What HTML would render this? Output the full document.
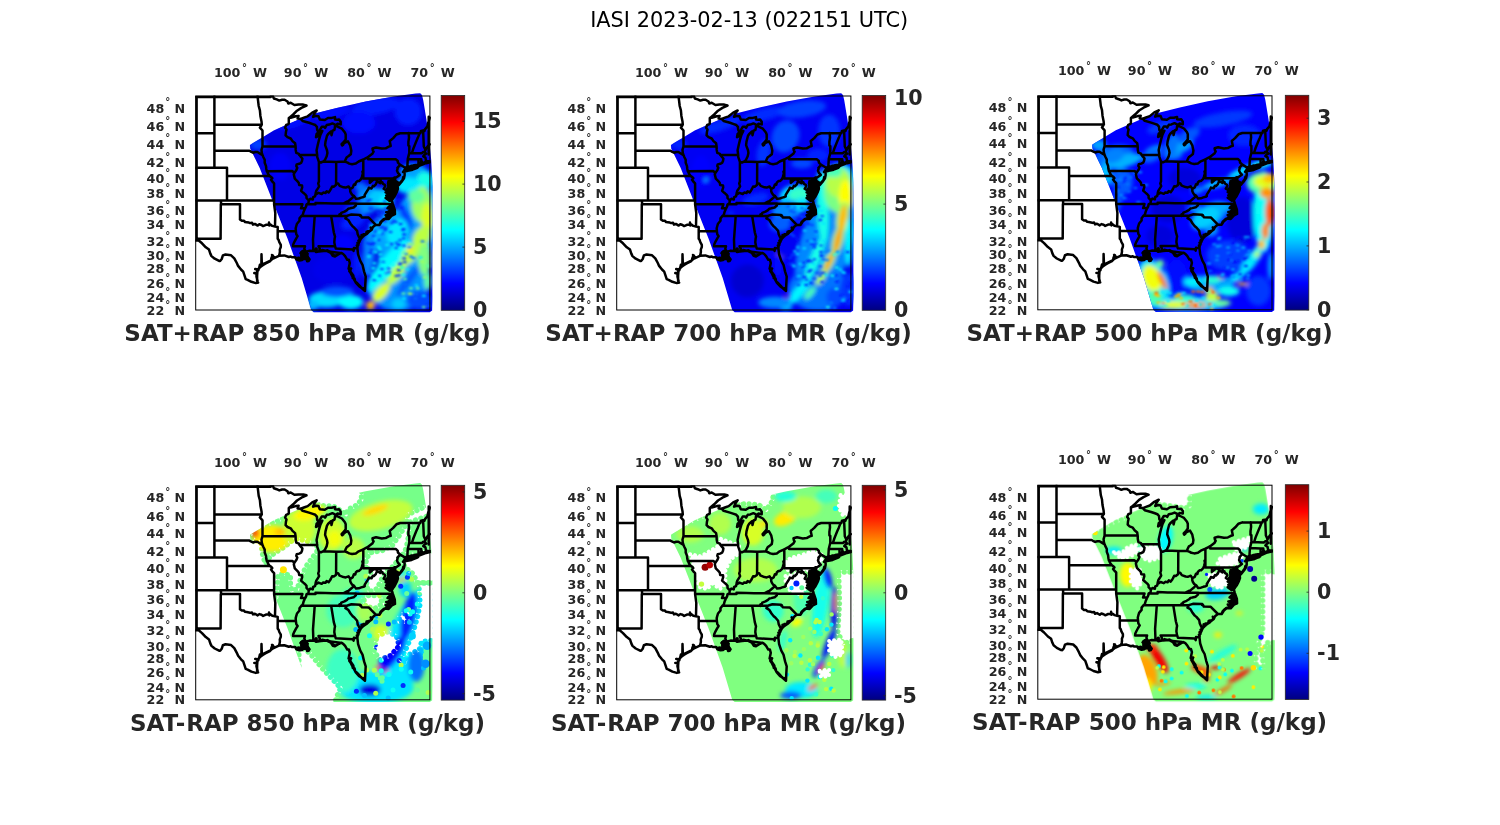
<!DOCTYPE html>
<html><head><meta charset="utf-8"><title>IASI 2023-02-13 (022151 UTC)</title>
<style>html,body{margin:0;padding:0;background:#fff}svg{display:block}text{font-family:"DejaVu Sans","Liberation Sans",sans-serif}.b{font-weight:bold;fill:#262626}</style></head><body>
<svg width="1500" height="825" viewBox="0 0 1500 825">
<defs>
<linearGradient id="jet" x1="0" y1="1" x2="0" y2="0">
<stop offset="0" stop-color="#000080"/>
<stop offset="0.125" stop-color="#0000ff"/>
<stop offset="0.375" stop-color="#00ffff"/>
<stop offset="0.625" stop-color="#ffff00"/>
<stop offset="0.875" stop-color="#ff0000"/>
<stop offset="1" stop-color="#800000"/>
</linearGradient>
<filter id="bl" x="-20%" y="-20%" width="140%" height="140%"><feGaussianBlur stdDeviation="2.2"/></filter>
<filter id="bl1" x="-20%" y="-20%" width="140%" height="140%"><feGaussianBlur stdDeviation="1.1"/></filter>
<g id="states"><path d="M0.9 1.0L0.9 144.5M0.0 1.0L75.0 1.0M0.0 37.2L18.7 37.2M18.7 0.0L18.7 71.8M18.7 28.7L66.1 28.7M18.7 54.8L53.8 54.8L55.1 55.6L57.3 56.7L59.5 56.0L61.7 56.0L63.6 57.2L65.2 58.2L66.8 59.1M0.0 71.8L31.3 71.8L31.3 80.1M31.3 80.1L74.0 80.1M31.3 80.1L31.3 104.4M0.0 104.4L78.4 104.4M25.3 104.4L25.3 108.3L25.1 108.3L24.9 142.8L2.4 142.8L3.0 144.5L0.0 144.5M25.3 108.3L44.3 108.3L44.3 123.4M44.3 123.4L46.2 124.8L48.1 124.7L49.4 126.0L51.0 126.2L53.2 126.6L54.4 127.1L56.3 126.7L57.3 128.6L59.2 127.9L62.0 129.6L63.6 128.3L65.8 129.0L67.4 130.1L70.3 128.8L72.5 128.5L74.4 128.3L76.6 129.9L79.3 130.5L82.0 131.1M78.4 104.4L78.4 108.3L79.6 117.0L79.3 130.5M82.0 131.1L82.0 142.8L82.9 143.9L83.6 146.2L85.1 148.9L85.1 151.0L84.1 153.6L84.2 155.8L83.9 157.6L83.2 159.8M82.0 135.2L100.2 135.3M78.4 104.4L78.4 87.3L76.6 85.5L75.3 83.8L76.6 82.2L75.6 81.1L74.0 80.1M74.0 80.1L72.5 77.9L71.1 75.2L70.6 73.0L70.3 70.1L69.0 66.7L69.0 63.8L67.7 61.2L66.8 59.1M66.8 59.1L66.1 56.9L65.8 53.9L66.8 50.4L66.8 34.5L64.2 31.6L66.1 28.7L65.8 25.4L64.7 19.9L64.2 14.3L63.0 10.0L62.4 4.8L61.8 0.0M66.8 50.4L99.9 50.4M71.1 75.2L96.7 75.1L98.6 77.0M78.4 108.3L106.7 108.3L105.3 112.3L109.5 112.3M75.0 0.0L77.1 0.0L78.2 2.5L81.0 3.4L83.6 4.6L86.4 3.7L88.9 3.7L91.8 5.5L92.6 7.5L95.0 6.7L98.7 9.0L102.9 8.6L107.6 8.6L110.8 9.5M110.8 9.5L105.7 11.9L101.3 14.7L97.5 18.5L94.3 21.2M94.3 21.2L93.1 22.1L93.1 27.5L92.7 28.1L90.5 29.0L89.4 31.8L90.8 33.6L90.2 36.3L89.9 39.4L91.8 41.2L95.0 42.5L96.8 45.1L99.4 47.3L99.9 50.4M99.9 50.4L100.0 53.9L100.6 56.9L103.2 57.9L103.6 59.0L105.1 60.8L106.7 62.5L106.3 65.0L105.4 66.9L103.5 67.8L101.0 68.4L100.6 70.1L101.6 71.8L101.3 72.6L100.6 74.3L98.6 77.0L98.1 78.5L98.7 80.9L99.1 82.6L101.6 85.1L103.0 86.7L103.5 89.1L106.3 89.4L106.5 91.3L105.4 94.8L107.6 96.8L109.5 98.4L110.8 100.0L110.8 102.0L113.1 104.5M113.1 104.5L112.7 107.5L110.8 108.3L110.5 110.3L109.5 112.3L107.9 115.8L107.0 119.0L105.7 120.0L103.8 122.4L103.8 124.7L101.3 127.7L100.6 130.0L100.0 132.3L100.2 135.3L100.6 138.3L101.9 140.2L100.3 142.8L98.7 145.8L97.5 148.4L97.3 150.2M97.3 150.2L109.3 150.2L108.6 152.8L109.8 155.4L110.1 156.3M103.6 59.0L121.5 59.1M123.2 65.9L123.2 85.5L122.5 87.5L123.4 90.4L121.9 92.8L120.6 94.8L120.0 96.8L119.8 98.3M167.6 74.8L166.7 75.6L167.1 77.6L166.2 80.9L165.4 83.0L163.3 85.1L161.7 85.1L160.1 86.7L159.6 88.7L158.2 88.5L157.0 91.6L154.5 93.0M154.5 93.0L152.9 90.5L150.0 91.6L147.8 91.3L144.0 89.9L142.4 87.5L140.4 87.5L140.2 89.1L138.0 90.8L136.4 90.5L135.1 93.2L134.5 94.2L132.9 96.4L131.0 95.2L129.8 97.0L127.5 96.6L126.0 98.0L122.8 96.8L120.6 98.2L119.8 98.3L119.3 100.4L117.4 101.2L117.1 103.6L114.6 102.8L113.1 104.5M111.3 108.3L119.8 108.3L119.8 106.9L129.8 107.2L137.4 107.4L147.6 107.5M147.6 107.5L151.3 105.6L152.6 105.2L156.4 102.0L158.4 100.1L156.4 98.8L155.1 96.8L154.5 95.2L154.5 93.0M147.6 107.5L160.3 107.6M160.3 107.6L160.1 109.5L157.9 111.5L154.5 112.3L152.6 112.7L151.3 114.1L148.8 115.6L145.6 116.9L145.3 117.9L143.7 118.5L143.6 120.1M160.3 107.6L197.1 107.9M105.7 120.0L151.2 120.0M151.2 120.0L152.6 119.4L155.7 118.5L164.3 118.9L164.3 119.7L165.0 119.3L166.0 121.4L173.0 121.6L180.1 128.8M151.2 120.0L149.7 122.4L152.6 124.0L154.8 127.7L157.0 130.4L158.6 131.7L161.4 134.9L162.0 138.3L163.6 141.7L165.2 142.6M140.1 152.5L157.0 153.4L157.9 154.9L158.2 151.9L161.7 152.4M139.3 150.2L122.8 150.2L124.1 152.8L123.4 155.4M135.5 120.2L138.1 136.3L139.3 140.6L138.9 142.8L138.6 146.2L139.3 150.2L140.1 152.5M119.0 120.0L117.3 143.6L117.7 155.0M140.4 87.5L140.5 65.9M127.7 65.4L140.5 65.9L149.1 65.6M167.6 63.5L167.6 82.4M167.6 82.4L197.6 82.4M174.2 82.4L174.1 86.7L176.6 84.5L178.5 83.2L180.7 83.8L182.3 82.8L184.5 83.4L185.3 85.7L186.7 86.3L187.1 87.7L189.1 88.9L189.6 90.0L188.0 92.8L189.9 94.0L193.1 95.6L194.3 96.8M185.3 85.7L184.6 87.2L181.4 85.1L180.1 88.3L178.1 90.3L177.2 89.9L175.8 92.5L173.1 91.8L172.8 92.8L171.4 95.0L169.0 98.8L169.0 100.4L167.9 101.0L165.5 101.6L163.1 102.5L160.3 102.8L158.4 100.1M197.6 82.4L198.1 92.7L202.2 92.8M197.6 82.4L198.1 81.8L199.1 81.4L199.9 81.8M196.9 96.8L201.0 96.2M199.1 83.4L199.9 81.8L201.9 80.5L204.1 78.9L202.2 76.8L201.3 74.7L201.9 72.6L201.7 71.9L204.5 68.8L202.2 66.7L202.1 65.0L200.3 63.3L172.4 63.3L172.4 61.0M204.5 68.8L209.5 71.8L208.7 74.3M211.0 71.8L210.6 71.0L212.2 70.0L211.7 69.3L212.1 62.9L213.6 56.9L213.6 50.0L212.7 49.5L212.7 46.0L213.3 41.6L213.0 37.1M212.1 62.9L222.8 63.2L222.8 69.1M222.8 63.3L225.5 63.3L225.5 64.2L225.8 65.2L226.6 66.1L227.1 67.6M213.6 56.9L226.0 57.3L226.6 56.9L227.6 56.0L229.0 55.9M216.2 57.1L217.8 52.2L220.3 46.0L222.2 41.6L224.0 37.1M233.0 20.8L233.0 58.6M204.5 37.2L224.7 37.1L225.3 34.9L227.4 34.5L228.8 34.9L229.1 33.6L231.7 30.4L232.6 26.3L234.2 21.7M229.8 54.1L228.1 50.4L227.9 46.0L227.4 34.5M204.5 37.2L200.7 38.5L197.5 42.1L195.0 44.3L194.0 45.1L195.0 50.0L193.1 50.6L189.9 52.3L186.1 52.6L180.4 51.5L176.8 52.5L177.1 54.3L177.9 55.6L176.6 57.8L172.4 61.0L170.3 62.1L167.6 63.5L163.0 65.5L160.1 67.6L156.4 68.2L153.5 67.6L151.9 66.7L149.1 65.6L150.0 63.3L151.1 61.2L152.6 60.3L155.1 58.2L155.6 54.8L154.5 49.5L152.2 45.4L149.4 46.6L146.2 49.1L145.9 48.2L148.4 45.6L150.0 43.4L150.0 38.5L149.2 36.5L146.2 32.7L143.4 31.3L141.0 30.1L139.3 30.4L138.8 33.8L136.9 34.7L135.8 39.2L135.3 35.5L132.5 38.0L131.3 39.8L129.8 45.6L129.4 49.1L131.3 54.3L131.7 56.9L131.0 60.3L129.1 64.2L127.7 65.4L125.3 66.5L123.2 65.9L122.8 64.6L121.5 60.8L121.5 59.1L120.9 54.3L122.2 48.2L123.4 43.4L124.7 38.9L126.6 34.9L124.4 37.2L121.9 40.3L120.3 41.2L120.9 38.0L122.8 36.3M122.8 36.3L121.5 34.0L121.2 30.8L119.6 29.0L117.1 28.1L113.3 26.8L106.9 25.0L105.0 22.9M122.8 36.3L126.0 30.8L128.5 30.8L129.4 31.8L131.0 29.0L133.6 28.6L136.7 27.4L140.8 29.3L141.8 27.7L145.0 28.4L145.0 25.8L143.4 23.5L141.8 23.8L139.3 23.5L139.3 21.1L136.1 21.9L132.3 22.0L129.1 24.0L124.1 23.4L122.8 20.3L120.3 19.9L117.4 20.8L119.0 17.1L120.9 14.5L116.5 16.6L112.0 20.3L108.2 21.7L105.0 22.9L101.9 22.6L102.9 19.9L100.0 20.3L95.0 21.7L94.3 21.2M234.2 48.2L232.6 49.5L230.7 52.2L229.8 54.1L229.0 55.9L230.4 57.8L228.5 59.1L227.6 60.3L229.8 61.6L230.1 63.8L231.0 65.3L234.2 65.2M234.2 66.3L230.4 67.2L229.5 65.9L227.9 67.6L227.1 67.6L225.3 68.0L225.5 65.5L224.7 68.7L222.4 69.1L215.9 69.7L211.0 71.8L209.5 73.5M208.7 75.1L210.5 75.1L215.9 74.1L222.4 71.2L219.7 70.7L217.4 72.0L214.0 72.5L210.5 73.0L208.7 75.1M208.7 74.3L207.3 76.0L208.9 76.4L208.9 79.3L208.3 82.2L206.4 85.1L203.2 88.9L202.2 86.7L200.0 85.1L199.1 83.4L198.8 84.6L200.0 87.1L201.9 89.9L202.2 92.8L201.0 96.2L198.8 100.4L196.5 103.4L196.2 100.4L198.1 97.2L196.9 94.8L194.3 92.4L195.0 89.1L195.6 85.5L196.2 83.8L193.7 86.3L193.1 88.7L193.1 92.4L193.7 94.0L194.3 96.0L194.3 97.2L194.3 100.0L193.7 102.4L194.3 104.4L196.2 104.9L197.1 107.9L199.1 113.8L199.3 118.1L196.2 119.5L192.9 123.1L189.3 122.7L186.1 125.4L183.9 128.9L180.1 128.8L177.2 131.1L176.0 133.8L173.4 135.7L171.5 137.6L168.1 139.8L166.5 141.3L165.2 142.6L163.3 146.5L162.0 149.5L161.7 152.4L162.4 158.3L164.6 164.9L166.8 168.8L168.4 175.6L170.0 180.6L169.6 187.7L169.3 195.0L166.2 192.2L163.6 190.5L160.1 186.6L157.9 182.7L156.4 179.9L154.8 176.7L153.5 174.9L155.4 172.4L152.9 172.8L154.1 167.0L153.2 163.8L151.6 163.8L149.4 160.1L147.5 158.0L145.6 156.9L143.4 158.0L139.3 160.5L137.0 159.9L135.1 156.9L131.0 154.8L125.3 155.2L123.4 155.4L121.9 155.8L120.3 156.0L120.3 152.5L119.6 155.0L117.7 155.0L113.9 154.8L111.4 155.4L110.1 156.3L109.2 157.2L112.0 158.0L110.1 158.3L111.4 160.5L113.9 163.4L113.0 164.9L111.4 165.2L110.8 163.0L108.2 162.7L106.3 164.1L103.8 164.5L100.6 163.4L99.4 161.2L96.2 161.2L95.0 160.5L93.1 161.0L88.6 159.4L83.2 159.8L77.9 162.3L77.2 159.4L76.0 161.2L75.3 164.1L74.1 165.4L69.6 167.7L67.1 169.2L64.2 171.3L63.0 173.1L60.8 173.5L61.7 174.9L60.8 177.1L60.8 180.6L62.0 185.6L62.4 186.6M196.9 108.3L196.2 110.7L191.8 112.3L197.8 113.0L197.8 115.4L193.1 116.9L193.7 120.0L190.5 120.0L192.7 122.0M62.4 186.6L60.1 187.1L55.7 185.8L51.9 183.8L50.0 183.1L49.1 180.3L47.5 175.6L45.3 173.5L42.4 169.9L41.1 167.0L38.6 162.3L35.4 159.3L29.8 158.5L27.2 159.4L26.0 163.0L24.4 165.0L23.4 164.9L19.0 162.7L15.8 160.1L14.6 157.6L13.3 153.6L10.1 151.3L6.3 147.3L3.0 144.5M77.5 162.0L76.3 159.0L77.5 160.9L75.6 162.3M67.7 168.5L66.1 166.7L65.8 158.3L65.7 167.0L67.4 168.8M64.6 171.0L64.2 168.8L63.6 171.3M62.7 173.4L59.5 173.1L62.7 174.2M61.1 177.2L58.6 177.1L61.1 177.8M79.1 161.2L74.7 164.5L69.6 167.0L65.8 169.2L63.3 172.1L61.7 175.6L61.4 179.9L61.4 184.9M73.4 128.5L73.3 126.6L73.6 129.6L73.7 128.5M104.8 157.2L107.0 155.0L109.5 156.1L107.6 157.6L105.1 156.9L108.2 159.0L110.8 160.5L108.2 160.9L110.1 162.0L112.0 162.7L111.4 164.1L112.7 163.8L108.9 161.2L107.0 162.7L107.6 160.5L104.4 162.7L102.5 163.4L103.2 161.6L100.0 162.3M195.6 85.1L194.3 89.1L193.7 93.2L194.3 98.8L195.0 102.8L196.9 102.0L197.5 97.2L196.2 93.2L195.3 89.1L195.9 85.9M193.7 88.3L192.4 91.6L190.5 94.0L193.1 94.8L189.9 96.4L193.1 98.0L190.5 99.6L193.4 100.4L190.5 102.4L193.1 103.2L189.9 102.0L193.7 104.8M198.1 85.9L199.4 89.1L200.7 92.4L199.4 95.6L198.1 99.6L196.9 102.0L197.8 98.0L199.1 94.0L200.3 89.9L199.4 86.7L201.3 85.9L203.8 87.5L205.1 85.9L207.0 83.4L207.6 80.9M195.0 109.9L196.9 112.3L192.4 111.9L196.2 113.8L198.1 116.2L195.0 116.2L190.5 116.2L194.3 118.1L191.8 119.3L189.9 119.3L193.7 120.8L191.2 122.0L188.0 123.1L186.7 124.3L184.8 126.2L184.2 127.7M176.0 133.4L175.0 131.5L175.7 133.8L174.1 134.9L172.2 135.3L171.5 137.2L170.9 135.7L170.3 138.3L167.7 138.3L167.7 140.2L165.8 139.1L165.8 141.7L163.9 141.3L163.9 143.6L162.7 144.7L163.6 146.2L161.7 146.9L162.7 148.8L161.1 149.5L161.7 151.0M232.9 65.5L230.4 66.7L227.9 66.7L225.3 66.7L226.0 65.5L225.3 68.0L221.6 68.8L218.4 69.3L215.2 70.1L212.1 71.4L209.5 72.6L208.3 74.7L207.6 75.6L208.9 75.6L212.1 74.7L215.2 73.9L218.4 73.0L221.6 71.8L219.0 71.4L216.5 72.2L212.7 72.6M153.8 174.2L155.1 172.8L154.5 175.3L157.6 179.6L157.9 181.3L157.0 182.0L158.9 182.7L159.5 185.6L161.4 187.0L163.3 189.1L165.2 191.2L167.7 193.3L169.0 191.9M136.7 158.3L139.3 159.8L141.2 159.0L143.1 157.6L144.3 156.9L134.8 155.8L136.1 156.9L131.7 154.3L129.8 154.7L126.6 153.9L125.7 154.7M120.9 155.4L120.9 152.8L120.0 153.9L119.6 155.4M147.5 48.7L146.2 47.8L146.5 49.5M208.9 73.9L213.3 73.0L217.8 71.8L221.6 70.5L224.7 69.3L227.9 68.0L231.0 66.7L232.9 65.9M210.2 72.2L215.2 71.1L219.7 69.9L222.8 69.3" fill="none" stroke="#000" stroke-width="2.5" stroke-linejoin="round" stroke-linecap="round"/>
<polygon points="105.1,156.1 108.9,154.3 111.4,156.1 112.0,159.0 113.3,162.7 111.4,164.1 108.9,162.0 106.3,162.7 105.1,160.5" fill="#000" stroke="#000" stroke-width="1.5" stroke-linejoin="round"/>
<polygon points="192.4,84.6 196.9,83.4 199.7,85.5 201.3,89.1 201.6,93.2 199.4,98.0 197.2,102.8 196.2,105.2 193.4,104.8 192.4,101.2 193.1,97.2 190.5,94.0 192.4,90.8 191.8,87.5" fill="#000" stroke="#000" stroke-width="1.5" stroke-linejoin="round"/>
<polygon points="194.3,109.1 197.5,110.7 198.8,114.6 196.9,117.7 192.4,118.5 191.2,116.2 194.3,113.8 191.8,111.5" fill="#000" stroke="#000" stroke-width="1.5" stroke-linejoin="round"/>
</g>
<clipPath id="axclip"><rect x="-0.5" y="-0.5" width="235.7" height="215.0"/></clipPath>
<clipPath id="swath"><polygon points="54.3,49.0 57.0,47.2 78.0,34.5 114.0,18.7 142.0,11.7 170.0,5.4 198.0,0.5 220.0,-2.4 224.5,-2.8 226.3,-1.0 227.5,4.0 230.8,24.0 233.5,44.0 235.5,64.0 236.8,90.0 237.0,130.0 236.8,200.0 236.5,214.5 234.0,216.3 118.0,216.3 115.5,214.0 106.0,182.0 92.0,143.0 76.5,104.0 64.0,72.0 54.5,52.5"/></clipPath>
</defs>
<rect width="1500" height="825" fill="#fff"/>
<text x="749.2" y="26.6" font-size="20.85" text-anchor="middle" fill="#000">IASI 2023-02-13 (022151 UTC)</text>
<g transform="translate(195.7,96.0)">
<g clip-path="url(#swath)"><rect x="40" y="-10" width="210" height="240" fill="#0000e5"/><g filter="url(#bl)"><ellipse cx="62.5" cy="48.5" rx="8.2" ry="5.5" fill="#0040ff"/><ellipse cx="97.9" cy="26.7" rx="19.1" ry="4.9" fill="#0010ff" transform="rotate(-17 97.9 26.7)"/><ellipse cx="136.1" cy="17.2" rx="19.1" ry="5.5" fill="#0010ff" transform="rotate(-14 136.1 17.2)"/><ellipse cx="179.7" cy="10.4" rx="24.5" ry="8.2" fill="#001dff" transform="rotate(-10 179.7 10.4)"/><ellipse cx="212.4" cy="15.8" rx="13.6" ry="13.6" fill="#001dff"/><ellipse cx="163.3" cy="26.7" rx="16.4" ry="10.9" fill="#000aff"/><ellipse cx="84.3" cy="70.3" rx="10.9" ry="13.6" fill="#0000f8"/><ellipse cx="212.4" cy="146.7" rx="24.5" ry="62.7" fill="#00a0ff" transform="rotate(20 212.4 146.7)"/><ellipse cx="201.5" cy="190.3" rx="30.0" ry="24.5" fill="#0094ff"/><ellipse cx="226.0" cy="89.4" rx="16.4" ry="16.4" fill="#00a0ff"/><ellipse cx="185.1" cy="135.8" rx="11.5" ry="25.9" fill="#00a7ff" transform="rotate(35 185.1 135.8)"/><ellipse cx="172.9" cy="160.3" rx="6.0" ry="20.4" fill="#0082ff" transform="rotate(5 172.9 160.3)"/><ellipse cx="157.9" cy="124.9" rx="13.6" ry="7.6" fill="#0022ff" transform="rotate(-30 157.9 124.9)"/><ellipse cx="147.0" cy="146.7" rx="10.9" ry="8.2" fill="#0004ff"/><ellipse cx="171.5" cy="97.6" rx="10.9" ry="6.8" fill="#008eff" transform="rotate(-20 171.5 97.6)"/><ellipse cx="185.1" cy="103.1" rx="13.1" ry="10.4" fill="#00cbff"/><ellipse cx="168.8" cy="111.2" rx="10.9" ry="6.8" fill="#008eff"/><ellipse cx="157.9" cy="114.0" rx="8.2" ry="4.1" fill="#0052ff"/><ellipse cx="164.7" cy="90.8" rx="6.0" ry="4.9" fill="#0070ff"/><ellipse cx="190.6" cy="105.8" rx="6.8" ry="6.8" fill="#00fbff"/><ellipse cx="217.9" cy="75.8" rx="13.6" ry="8.2" fill="#00a0ff"/><ellipse cx="228.8" cy="84.0" rx="8.2" ry="8.2" fill="#19ffe6"/><ellipse cx="212.4" cy="89.4" rx="12.3" ry="8.2" fill="#00e9ff"/><ellipse cx="209.7" cy="119.4" rx="3.8" ry="15.0" fill="#0035ff" transform="rotate(-25 209.7 119.4)"/><ellipse cx="191.7" cy="169.3" rx="7.6" ry="32.7" fill="#00fbff" transform="rotate(37 191.7 169.3)"/><ellipse cx="201.5" cy="135.8" rx="9.5" ry="13.6" fill="#00e9ff" transform="rotate(30 201.5 135.8)"/><ellipse cx="226.0" cy="108.5" rx="10.4" ry="17.7" fill="#9eff62"/><ellipse cx="231.5" cy="122.1" rx="6.0" ry="15.0" fill="#daff25"/><ellipse cx="220.6" cy="100.3" rx="8.2" ry="6.8" fill="#62ff9e"/><ellipse cx="226.0" cy="141.2" rx="8.2" ry="12.3" fill="#bcff43" transform="rotate(30 226.0 141.2)"/><ellipse cx="214.6" cy="158.4" rx="6.5" ry="13.6" fill="#bcff43" transform="rotate(38 214.6 158.4)"/><ellipse cx="200.7" cy="177.2" rx="6.0" ry="13.6" fill="#bcff43" transform="rotate(38 200.7 177.2)"/><ellipse cx="185.7" cy="196.3" rx="5.5" ry="11.5" fill="#daff25" transform="rotate(42 185.7 196.3)"/><ellipse cx="174.8" cy="209.4" rx="4.4" ry="4.4" fill="#ffb800"/><ellipse cx="214.0" cy="153.5" rx="2.7" ry="3.8" fill="#ffe800"/><ellipse cx="212.4" cy="184.8" rx="3.8" ry="19.1" fill="#0059ff" transform="rotate(37 212.4 184.8)"/><ellipse cx="228.8" cy="163.0" rx="6.8" ry="16.4" fill="#80ff80"/><ellipse cx="232.0" cy="184.8" rx="3.8" ry="9.5" fill="#62ff9e"/><ellipse cx="223.3" cy="203.9" rx="12.3" ry="9.5" fill="#004cff"/><ellipse cx="202.9" cy="208.0" rx="6.8" ry="5.5" fill="#00cbff"/><ellipse cx="130.6" cy="203.4" rx="17.7" ry="8.2" fill="#00dcff"/><ellipse cx="155.2" cy="206.1" rx="12.3" ry="7.1" fill="#00fbff"/><ellipse cx="117.0" cy="209.4" rx="6.0" ry="4.9" fill="#00b9ff"/><ellipse cx="141.5" cy="195.7" rx="16.4" ry="5.5" fill="#0052ff"/><ellipse cx="136.1" cy="173.9" rx="19.1" ry="13.6" fill="#0000ec"/><ellipse cx="161.1" cy="168.5" rx="3.5" ry="13.6" fill="#001dff"/></g><g filter="url(#bl1)"><ellipse cx="176.6" cy="172.4" rx="2.2" ry="1.1" fill="#0017ff"/><ellipse cx="181.2" cy="143.6" rx="2.2" ry="1.1" fill="#07fff8"/><ellipse cx="189.5" cy="134.1" rx="2.2" ry="1.1" fill="#0035ff"/><ellipse cx="175.1" cy="105.4" rx="2.2" ry="1.1" fill="#07fff8"/><ellipse cx="188.0" cy="165.4" rx="2.2" ry="1.1" fill="#0017ff"/><ellipse cx="198.1" cy="124.8" rx="2.2" ry="1.1" fill="#0035ff"/><ellipse cx="194.1" cy="111.4" rx="2.2" ry="1.1" fill="#0035ff"/><ellipse cx="172.7" cy="105.1" rx="2.2" ry="1.1" fill="#0017ff"/><ellipse cx="207.4" cy="134.2" rx="2.2" ry="1.1" fill="#0035ff"/><ellipse cx="208.5" cy="162.4" rx="2.2" ry="1.1" fill="#0035ff"/><ellipse cx="200.7" cy="179.9" rx="2.2" ry="1.1" fill="#0035ff"/><ellipse cx="184.7" cy="158.4" rx="2.2" ry="1.1" fill="#07fff8"/><ellipse cx="207.9" cy="178.8" rx="2.2" ry="1.1" fill="#07fff8"/><ellipse cx="203.5" cy="148.6" rx="2.2" ry="1.1" fill="#0017ff"/><ellipse cx="178.6" cy="184.2" rx="2.2" ry="1.1" fill="#0035ff"/><ellipse cx="176.1" cy="130.3" rx="2.2" ry="1.1" fill="#07fff8"/><ellipse cx="190.9" cy="177.5" rx="2.2" ry="1.1" fill="#0035ff"/><ellipse cx="183.1" cy="151.1" rx="2.2" ry="1.1" fill="#07fff8"/><ellipse cx="203.8" cy="144.4" rx="2.2" ry="1.1" fill="#0017ff"/><ellipse cx="189.8" cy="163.9" rx="2.2" ry="1.1" fill="#07fff8"/><ellipse cx="187.3" cy="117.2" rx="2.2" ry="1.1" fill="#0035ff"/><ellipse cx="174.8" cy="157.3" rx="2.2" ry="1.1" fill="#0017ff"/><ellipse cx="201.2" cy="145.7" rx="2.2" ry="1.1" fill="#07fff8"/><ellipse cx="185.7" cy="163.0" rx="2.2" ry="1.1" fill="#07fff8"/><ellipse cx="173.2" cy="160.6" rx="2.2" ry="1.1" fill="#07fff8"/><ellipse cx="196.2" cy="116.8" rx="2.2" ry="1.1" fill="#0035ff"/><ellipse cx="209.0" cy="166.1" rx="2.2" ry="1.1" fill="#0035ff"/><ellipse cx="186.9" cy="131.2" rx="2.2" ry="1.1" fill="#0035ff"/><ellipse cx="189.0" cy="125.1" rx="2.2" ry="1.1" fill="#0017ff"/><ellipse cx="186.2" cy="173.1" rx="2.2" ry="1.1" fill="#0035ff"/><ellipse cx="191.3" cy="149.0" rx="2.2" ry="1.1" fill="#07fff8"/><ellipse cx="207.8" cy="142.4" rx="2.2" ry="1.1" fill="#0035ff"/><ellipse cx="193.3" cy="119.4" rx="2.2" ry="1.1" fill="#07fff8"/><ellipse cx="190.0" cy="132.2" rx="2.2" ry="1.1" fill="#0035ff"/><ellipse cx="171.6" cy="147.2" rx="2.2" ry="1.1" fill="#0035ff"/><ellipse cx="189.0" cy="105.3" rx="2.2" ry="1.1" fill="#0035ff"/><ellipse cx="195.8" cy="148.1" rx="2.2" ry="1.1" fill="#0035ff"/><ellipse cx="204.4" cy="168.4" rx="2.2" ry="1.1" fill="#0035ff"/><ellipse cx="172.7" cy="180.2" rx="2.2" ry="1.1" fill="#0017ff"/><ellipse cx="174.7" cy="104.4" rx="2.2" ry="1.1" fill="#0017ff"/><ellipse cx="200.3" cy="126.0" rx="2.2" ry="1.1" fill="#0035ff"/><ellipse cx="175.7" cy="154.2" rx="2.2" ry="1.1" fill="#0035ff"/><ellipse cx="182.6" cy="116.7" rx="2.2" ry="1.1" fill="#0035ff"/><ellipse cx="191.6" cy="116.8" rx="2.2" ry="1.1" fill="#0035ff"/><ellipse cx="196.2" cy="127.1" rx="2.2" ry="1.1" fill="#0035ff"/><ellipse cx="190.5" cy="112.4" rx="2.2" ry="1.1" fill="#0035ff"/><ellipse cx="186.3" cy="137.5" rx="2.2" ry="1.1" fill="#0035ff"/><ellipse cx="181.4" cy="123.8" rx="2.2" ry="1.1" fill="#0035ff"/><ellipse cx="208.4" cy="138.4" rx="2.2" ry="1.1" fill="#0017ff"/><ellipse cx="180.1" cy="135.5" rx="2.2" ry="1.1" fill="#0017ff"/><ellipse cx="198.9" cy="116.2" rx="2.2" ry="1.1" fill="#07fff8"/><ellipse cx="192.3" cy="121.1" rx="2.2" ry="1.1" fill="#07fff8"/><ellipse cx="180.0" cy="156.1" rx="2.2" ry="1.1" fill="#07fff8"/><ellipse cx="197.3" cy="168.8" rx="2.2" ry="1.1" fill="#07fff8"/><ellipse cx="173.8" cy="127.5" rx="2.2" ry="1.1" fill="#0035ff"/><ellipse cx="204.9" cy="128.1" rx="2.2" ry="1.1" fill="#0017ff"/><ellipse cx="183.4" cy="179.9" rx="2.2" ry="1.1" fill="#0035ff"/><ellipse cx="187.4" cy="123.7" rx="2.2" ry="1.1" fill="#0017ff"/><ellipse cx="192.9" cy="172.6" rx="2.2" ry="1.1" fill="#0035ff"/><ellipse cx="208.2" cy="149.7" rx="2.2" ry="1.1" fill="#0035ff"/><ellipse cx="203.1" cy="174.2" rx="2.2" ry="1.1" fill="#0017ff"/><ellipse cx="185.9" cy="131.4" rx="2.2" ry="1.1" fill="#0035ff"/><ellipse cx="193.4" cy="176.4" rx="2.2" ry="1.1" fill="#0035ff"/><ellipse cx="190.3" cy="179.8" rx="2.2" ry="1.1" fill="#07fff8"/><ellipse cx="182.8" cy="143.9" rx="2.2" ry="1.1" fill="#0035ff"/><ellipse cx="194.9" cy="136.0" rx="2.2" ry="1.1" fill="#0035ff"/><ellipse cx="172.2" cy="119.5" rx="2.2" ry="1.1" fill="#0035ff"/><ellipse cx="202.5" cy="149.1" rx="2.2" ry="1.1" fill="#0035ff"/><ellipse cx="184.5" cy="120.5" rx="2.2" ry="1.1" fill="#0017ff"/><ellipse cx="203.5" cy="179.3" rx="2.2" ry="1.1" fill="#0035ff"/><ellipse cx="206.4" cy="171.6" rx="2.2" ry="1.1" fill="#07fff8"/><ellipse cx="200.8" cy="146.6" rx="2.2" ry="1.1" fill="#0017ff"/><ellipse cx="199.2" cy="110.0" rx="2.2" ry="1.1" fill="#0035ff"/><ellipse cx="177.9" cy="147.1" rx="2.2" ry="1.1" fill="#0035ff"/><ellipse cx="200.5" cy="152.1" rx="2.2" ry="1.1" fill="#0035ff"/><ellipse cx="185.6" cy="130.9" rx="2.2" ry="1.1" fill="#0035ff"/><ellipse cx="180.5" cy="180.3" rx="2.2" ry="1.1" fill="#07fff8"/><ellipse cx="176.7" cy="148.1" rx="2.2" ry="1.1" fill="#0017ff"/><ellipse cx="183.7" cy="136.3" rx="2.2" ry="1.1" fill="#07fff8"/><ellipse cx="204.6" cy="167.5" rx="2.2" ry="1.1" fill="#0035ff"/><ellipse cx="184.5" cy="153.4" rx="2.2" ry="1.1" fill="#07fff8"/><ellipse cx="174.4" cy="148.1" rx="2.2" ry="1.1" fill="#0017ff"/><ellipse cx="207.9" cy="132.9" rx="2.2" ry="1.1" fill="#0035ff"/><ellipse cx="193.1" cy="178.7" rx="2.2" ry="1.1" fill="#07fff8"/><ellipse cx="205.7" cy="111.9" rx="2.2" ry="1.1" fill="#0017ff"/><ellipse cx="203.1" cy="104.1" rx="2.2" ry="1.1" fill="#0017ff"/><ellipse cx="175.0" cy="112.5" rx="2.2" ry="1.1" fill="#0017ff"/><ellipse cx="178.7" cy="167.3" rx="2.2" ry="1.1" fill="#07fff8"/><ellipse cx="177.7" cy="139.9" rx="2.2" ry="1.1" fill="#0035ff"/><ellipse cx="177.6" cy="172.2" rx="2.2" ry="1.1" fill="#07fff8"/><ellipse cx="231.8" cy="169.7" rx="2.2" ry="1.1" fill="#62ff9e"/><ellipse cx="222.0" cy="192.4" rx="2.2" ry="1.1" fill="#62ff9e"/><ellipse cx="209.7" cy="188.4" rx="2.2" ry="1.1" fill="#0070ff"/><ellipse cx="207.7" cy="197.6" rx="2.2" ry="1.1" fill="#62ff9e"/><ellipse cx="226.8" cy="165.8" rx="2.2" ry="1.1" fill="#9eff62"/><ellipse cx="215.5" cy="148.2" rx="2.2" ry="1.1" fill="#62ff9e"/><ellipse cx="233.4" cy="210.0" rx="2.2" ry="1.1" fill="#0070ff"/><ellipse cx="213.8" cy="197.5" rx="2.2" ry="1.1" fill="#9eff62"/><ellipse cx="225.0" cy="161.6" rx="2.2" ry="1.1" fill="#00e9ff"/><ellipse cx="215.3" cy="160.7" rx="2.2" ry="1.1" fill="#0070ff"/><ellipse cx="229.3" cy="150.0" rx="2.2" ry="1.1" fill="#9eff62"/><ellipse cx="209.4" cy="183.1" rx="2.2" ry="1.1" fill="#62ff9e"/><ellipse cx="232.6" cy="170.6" rx="2.2" ry="1.1" fill="#62ff9e"/><ellipse cx="208.1" cy="156.7" rx="2.2" ry="1.1" fill="#62ff9e"/><ellipse cx="213.7" cy="150.8" rx="2.2" ry="1.1" fill="#0070ff"/><ellipse cx="213.6" cy="145.3" rx="2.2" ry="1.1" fill="#00e9ff"/><ellipse cx="217.9" cy="162.2" rx="2.2" ry="1.1" fill="#0070ff"/><ellipse cx="226.8" cy="145.4" rx="2.2" ry="1.1" fill="#0070ff"/><ellipse cx="214.9" cy="197.9" rx="2.2" ry="1.1" fill="#9eff62"/><ellipse cx="219.7" cy="202.5" rx="2.2" ry="1.1" fill="#0070ff"/><ellipse cx="220.6" cy="198.1" rx="2.2" ry="1.1" fill="#0070ff"/><ellipse cx="220.8" cy="189.3" rx="2.2" ry="1.1" fill="#00e9ff"/><ellipse cx="228.1" cy="211.1" rx="2.2" ry="1.1" fill="#62ff9e"/><ellipse cx="215.3" cy="192.3" rx="2.2" ry="1.1" fill="#62ff9e"/><ellipse cx="210.4" cy="158.0" rx="2.2" ry="1.1" fill="#0070ff"/><ellipse cx="228.2" cy="199.9" rx="2.2" ry="1.1" fill="#00e9ff"/><ellipse cx="211.8" cy="173.4" rx="2.2" ry="1.1" fill="#00e9ff"/><ellipse cx="208.3" cy="202.7" rx="2.2" ry="1.1" fill="#00e9ff"/><ellipse cx="213.8" cy="148.3" rx="2.2" ry="1.1" fill="#9eff62"/><ellipse cx="229.0" cy="181.4" rx="2.2" ry="1.1" fill="#9eff62"/></g></g>
<g clip-path="url(#axclip)"><use href="#states"/></g>
<rect x="0" y="0" width="234.2" height="214.0" fill="none" stroke="#000" stroke-width="1"/>
<text class="b" font-size="12.7" text-anchor="middle" x="44.8" y="-19.2">100<tspan font-size="10" dx="1.6" dy="-6.3">°</tspan><tspan dx="1.6" dy="6.3"> W</tspan></text>
<text class="b" font-size="12.7" text-anchor="middle" x="110.3" y="-19.2">90<tspan font-size="10" dx="1.6" dy="-6.3">°</tspan><tspan dx="1.6" dy="6.3"> W</tspan></text>
<text class="b" font-size="12.7" text-anchor="middle" x="173.6" y="-19.2">80<tspan font-size="10" dx="1.6" dy="-6.3">°</tspan><tspan dx="1.6" dy="6.3"> W</tspan></text>
<text class="b" font-size="12.7" text-anchor="middle" x="236.9" y="-19.2">70<tspan font-size="10" dx="1.6" dy="-6.3">°</tspan><tspan dx="1.6" dy="6.3"> W</tspan></text>
<text class="b" font-size="12.7" text-anchor="end" x="-10.5" y="219.2">22<tspan font-size="10" dx="1.1" dy="-7.2">°</tspan><tspan dx="-0.2" dy="7.2"> N</tspan></text>
<text class="b" font-size="12.7" text-anchor="end" x="-10.5" y="205.9">24<tspan font-size="10" dx="1.1" dy="-7.2">°</tspan><tspan dx="-0.2" dy="7.2"> N</tspan></text>
<text class="b" font-size="12.7" text-anchor="end" x="-10.5" y="191.8">26<tspan font-size="10" dx="1.1" dy="-7.2">°</tspan><tspan dx="-0.2" dy="7.2"> N</tspan></text>
<text class="b" font-size="12.7" text-anchor="end" x="-10.5" y="177.3">28<tspan font-size="10" dx="1.1" dy="-7.2">°</tspan><tspan dx="-0.2" dy="7.2"> N</tspan></text>
<text class="b" font-size="12.7" text-anchor="end" x="-10.5" y="163.5">30<tspan font-size="10" dx="1.1" dy="-7.2">°</tspan><tspan dx="-0.2" dy="7.2"> N</tspan></text>
<text class="b" font-size="12.7" text-anchor="end" x="-10.5" y="149.8">32<tspan font-size="10" dx="1.1" dy="-7.2">°</tspan><tspan dx="-0.2" dy="7.2"> N</tspan></text>
<text class="b" font-size="12.7" text-anchor="end" x="-10.5" y="132.9">34<tspan font-size="10" dx="1.1" dy="-7.2">°</tspan><tspan dx="-0.2" dy="7.2"> N</tspan></text>
<text class="b" font-size="12.7" text-anchor="end" x="-10.5" y="118.9">36<tspan font-size="10" dx="1.1" dy="-7.2">°</tspan><tspan dx="-0.2" dy="7.2"> N</tspan></text>
<text class="b" font-size="12.7" text-anchor="end" x="-10.5" y="102.1">38<tspan font-size="10" dx="1.1" dy="-7.2">°</tspan><tspan dx="-0.2" dy="7.2"> N</tspan></text>
<text class="b" font-size="12.7" text-anchor="end" x="-10.5" y="87.1">40<tspan font-size="10" dx="1.1" dy="-7.2">°</tspan><tspan dx="-0.2" dy="7.2"> N</tspan></text>
<text class="b" font-size="12.7" text-anchor="end" x="-10.5" y="71.2">42<tspan font-size="10" dx="1.1" dy="-7.2">°</tspan><tspan dx="-0.2" dy="7.2"> N</tspan></text>
<text class="b" font-size="12.7" text-anchor="end" x="-10.5" y="52.5">44<tspan font-size="10" dx="1.1" dy="-7.2">°</tspan><tspan dx="-0.2" dy="7.2"> N</tspan></text>
<text class="b" font-size="12.7" text-anchor="end" x="-10.5" y="35.1">46<tspan font-size="10" dx="1.1" dy="-7.2">°</tspan><tspan dx="-0.2" dy="7.2"> N</tspan></text>
<text class="b" font-size="12.7" text-anchor="end" x="-10.5" y="16.6">48<tspan font-size="10" dx="1.1" dy="-7.2">°</tspan><tspan dx="-0.2" dy="7.2"> N</tspan></text>
<rect x="245.5" y="-0.5" width="23.5" height="214.8" fill="url(#jet)" stroke="#262626" stroke-width="0.8"/>
<line x1="266.7" x2="269.0" y1="214.0" y2="214.0" stroke="#262626" stroke-width="0.8"/>
<text class="b" font-size="20.6" x="277.3" y="220.9">0</text>
<line x1="266.7" x2="269.0" y1="151.1" y2="151.1" stroke="#262626" stroke-width="0.8"/>
<text class="b" font-size="20.6" x="277.3" y="158.0">5</text>
<line x1="266.7" x2="269.0" y1="88.1" y2="88.1" stroke="#262626" stroke-width="0.8"/>
<text class="b" font-size="20.6" x="277.3" y="95.0">10</text>
<line x1="266.7" x2="269.0" y1="25.2" y2="25.2" stroke="#262626" stroke-width="0.8"/>
<text class="b" font-size="20.6" x="277.3" y="32.1">15</text>
<text class="b" font-size="23" text-anchor="middle" x="111.8" y="244.8">SAT+RAP 850 hPa MR (g/kg)</text>
</g>
<g transform="translate(616.7,96.0)">
<g clip-path="url(#swath)"><rect x="40" y="-10" width="210" height="240" fill="#0000f4"/><g filter="url(#bl)"><ellipse cx="62.5" cy="48.5" rx="8.2" ry="4.9" fill="#0022ff"/><ellipse cx="103.4" cy="29.4" rx="21.8" ry="5.5" fill="#002cff" transform="rotate(-17 103.4 29.4)"/><ellipse cx="147.0" cy="18.5" rx="21.8" ry="6.0" fill="#002cff" transform="rotate(-14 147.0 18.5)"/><ellipse cx="185.1" cy="13.1" rx="24.5" ry="8.2" fill="#0040ff" transform="rotate(-8 185.1 13.1)"/><ellipse cx="168.8" cy="40.3" rx="13.6" ry="16.4" fill="#004aff" transform="rotate(20 168.8 40.3)"/><ellipse cx="147.0" cy="56.7" rx="6.8" ry="13.6" fill="#0036ff" transform="rotate(10 147.0 56.7)"/><ellipse cx="185.1" cy="67.6" rx="10.9" ry="4.9" fill="#004aff"/><ellipse cx="138.8" cy="103.1" rx="13.6" ry="5.5" fill="#002cff" transform="rotate(-15 138.8 103.1)"/><ellipse cx="84.3" cy="75.8" rx="9.5" ry="16.4" fill="#0004ff"/><ellipse cx="212.4" cy="34.9" rx="10.9" ry="16.4" fill="#0036ff"/><ellipse cx="201.5" cy="59.4" rx="10.9" ry="6.8" fill="#0022ff"/><ellipse cx="209.7" cy="146.7" rx="25.9" ry="65.4" fill="#0087ff" transform="rotate(18 209.7 146.7)"/><ellipse cx="201.5" cy="193.0" rx="30.0" ry="21.8" fill="#0073ff"/><ellipse cx="223.3" cy="84.0" rx="16.4" ry="16.4" fill="#00e2ff"/><ellipse cx="178.3" cy="99.0" rx="15.8" ry="10.4" fill="#00d8ff" transform="rotate(-12 178.3 99.0)"/><ellipse cx="182.4" cy="99.0" rx="10.9" ry="7.6" fill="#34ffcb"/><ellipse cx="171.5" cy="114.0" rx="16.4" ry="9.5" fill="#0087ff" transform="rotate(-10 171.5 114.0)"/><ellipse cx="163.3" cy="127.6" rx="10.9" ry="8.2" fill="#005fff"/><ellipse cx="185.1" cy="108.5" rx="6.8" ry="6.8" fill="#00e2ff"/><ellipse cx="205.6" cy="111.2" rx="6.0" ry="36.8" fill="#15ffea" transform="rotate(-3 205.6 111.2)"/><ellipse cx="198.2" cy="163.0" rx="5.2" ry="24.5" fill="#15ffea" transform="rotate(22 198.2 163.0)"/><ellipse cx="182.4" cy="195.7" rx="4.9" ry="16.4" fill="#00f6ff" transform="rotate(40 182.4 195.7)"/><ellipse cx="168.8" cy="210.7" rx="6.8" ry="3.8" fill="#00c4ff"/><ellipse cx="221.1" cy="93.5" rx="14.2" ry="23.2" fill="#7aff85"/><ellipse cx="221.9" cy="86.7" rx="12.3" ry="15.0" fill="#b7ff48"/><ellipse cx="228.8" cy="100.3" rx="6.8" ry="16.4" fill="#feff01"/><ellipse cx="216.5" cy="75.8" rx="9.5" ry="5.5" fill="#48ffb7"/><ellipse cx="226.0" cy="122.1" rx="6.5" ry="16.4" fill="#8fff70" transform="rotate(8 226.0 122.1)"/><ellipse cx="221.1" cy="143.9" rx="5.5" ry="16.4" fill="#8fff70" transform="rotate(14 221.1 143.9)"/><ellipse cx="212.4" cy="165.8" rx="4.9" ry="13.6" fill="#7aff85" transform="rotate(25 212.4 165.8)"/><ellipse cx="226.0" cy="122.1" rx="3.8" ry="13.6" fill="#ffba00" transform="rotate(8 226.0 122.1)"/><ellipse cx="221.1" cy="143.9" rx="3.0" ry="13.6" fill="#ff9b00" transform="rotate(14 221.1 143.9)"/><ellipse cx="212.4" cy="165.8" rx="2.7" ry="10.9" fill="#ffa500" transform="rotate(25 212.4 165.8)"/><ellipse cx="204.2" cy="182.1" rx="3.3" ry="8.2" fill="#adff52" transform="rotate(35 204.2 182.1)"/><ellipse cx="193.3" cy="197.1" rx="3.3" ry="8.2" fill="#48ffb7" transform="rotate(40 193.3 197.1)"/><ellipse cx="232.0" cy="146.7" rx="3.3" ry="24.5" fill="#01fffe"/><ellipse cx="231.5" cy="193.0" rx="8.2" ry="16.4" fill="#0036ff"/><ellipse cx="217.9" cy="201.2" rx="8.2" ry="9.5" fill="#004aff"/><ellipse cx="157.9" cy="206.6" rx="16.4" ry="6.0" fill="#0087ff"/><ellipse cx="130.6" cy="184.8" rx="16.4" ry="16.4" fill="#0000d0"/><ellipse cx="161.1" cy="168.5" rx="3.5" ry="12.3" fill="#000eff"/><ellipse cx="89.7" cy="84.0" rx="2.7" ry="1.1" fill="#00e2ff"/><ellipse cx="114.3" cy="117.2" rx="1.6" ry="0.8" fill="#00e2ff"/><ellipse cx="161.1" cy="157.6" rx="1.4" ry="1.1" fill="#ff8700"/><ellipse cx="166.6" cy="160.8" rx="1.4" ry="0.8" fill="#ffba00"/><ellipse cx="169.3" cy="200.1" rx="1.6" ry="0.8" fill="#ff2200"/></g><g filter="url(#bl1)"><ellipse cx="205.4" cy="186.0" rx="2.2" ry="1.1" fill="#0018ff"/><ellipse cx="174.8" cy="138.0" rx="2.2" ry="1.1" fill="#004aff"/><ellipse cx="197.6" cy="163.3" rx="2.2" ry="1.1" fill="#004aff"/><ellipse cx="180.4" cy="125.9" rx="2.2" ry="1.1" fill="#0018ff"/><ellipse cx="192.1" cy="121.5" rx="2.2" ry="1.1" fill="#00e2ff"/><ellipse cx="194.1" cy="174.2" rx="2.2" ry="1.1" fill="#004aff"/><ellipse cx="190.8" cy="144.9" rx="2.2" ry="1.1" fill="#004aff"/><ellipse cx="203.4" cy="179.7" rx="2.2" ry="1.1" fill="#004aff"/><ellipse cx="188.0" cy="134.6" rx="2.2" ry="1.1" fill="#00e2ff"/><ellipse cx="186.5" cy="180.8" rx="2.2" ry="1.1" fill="#004aff"/><ellipse cx="191.4" cy="127.8" rx="2.2" ry="1.1" fill="#0018ff"/><ellipse cx="177.8" cy="122.7" rx="2.2" ry="1.1" fill="#004aff"/><ellipse cx="206.9" cy="163.7" rx="2.2" ry="1.1" fill="#004aff"/><ellipse cx="206.8" cy="145.0" rx="2.2" ry="1.1" fill="#00e2ff"/><ellipse cx="197.5" cy="182.7" rx="2.2" ry="1.1" fill="#004aff"/><ellipse cx="199.5" cy="137.4" rx="2.2" ry="1.1" fill="#00e2ff"/><ellipse cx="177.2" cy="170.2" rx="2.2" ry="1.1" fill="#00e2ff"/><ellipse cx="194.7" cy="128.9" rx="2.2" ry="1.1" fill="#004aff"/><ellipse cx="204.3" cy="149.5" rx="2.2" ry="1.1" fill="#004aff"/><ellipse cx="195.0" cy="145.7" rx="2.2" ry="1.1" fill="#00e2ff"/><ellipse cx="183.9" cy="167.9" rx="2.2" ry="1.1" fill="#00e2ff"/><ellipse cx="188.8" cy="126.6" rx="2.2" ry="1.1" fill="#004aff"/><ellipse cx="200.4" cy="176.8" rx="2.2" ry="1.1" fill="#004aff"/><ellipse cx="198.9" cy="147.7" rx="2.2" ry="1.1" fill="#004aff"/><ellipse cx="205.4" cy="166.3" rx="2.2" ry="1.1" fill="#00e2ff"/><ellipse cx="182.6" cy="125.5" rx="2.2" ry="1.1" fill="#004aff"/><ellipse cx="204.6" cy="159.5" rx="2.2" ry="1.1" fill="#0018ff"/><ellipse cx="199.3" cy="136.4" rx="2.2" ry="1.1" fill="#0018ff"/><ellipse cx="203.7" cy="124.2" rx="2.2" ry="1.1" fill="#0018ff"/><ellipse cx="173.6" cy="161.9" rx="2.2" ry="1.1" fill="#004aff"/><ellipse cx="192.5" cy="164.3" rx="2.2" ry="1.1" fill="#0018ff"/><ellipse cx="198.2" cy="119.7" rx="2.2" ry="1.1" fill="#004aff"/><ellipse cx="180.2" cy="125.7" rx="2.2" ry="1.1" fill="#0018ff"/><ellipse cx="186.5" cy="167.1" rx="2.2" ry="1.1" fill="#0018ff"/><ellipse cx="173.5" cy="138.0" rx="2.2" ry="1.1" fill="#004aff"/><ellipse cx="195.4" cy="115.3" rx="2.2" ry="1.1" fill="#0018ff"/><ellipse cx="172.4" cy="168.2" rx="2.2" ry="1.1" fill="#0018ff"/><ellipse cx="184.7" cy="119.0" rx="2.2" ry="1.1" fill="#004aff"/><ellipse cx="197.6" cy="151.3" rx="2.2" ry="1.1" fill="#0018ff"/><ellipse cx="185.2" cy="112.0" rx="2.2" ry="1.1" fill="#004aff"/><ellipse cx="176.9" cy="111.5" rx="2.2" ry="1.1" fill="#004aff"/><ellipse cx="204.8" cy="159.8" rx="2.2" ry="1.1" fill="#0018ff"/><ellipse cx="181.6" cy="148.5" rx="2.2" ry="1.1" fill="#004aff"/><ellipse cx="187.4" cy="171.2" rx="2.2" ry="1.1" fill="#0018ff"/><ellipse cx="203.5" cy="170.3" rx="2.2" ry="1.1" fill="#004aff"/><ellipse cx="188.3" cy="126.9" rx="2.2" ry="1.1" fill="#004aff"/><ellipse cx="201.2" cy="110.5" rx="2.2" ry="1.1" fill="#004aff"/><ellipse cx="189.9" cy="172.4" rx="2.2" ry="1.1" fill="#00e2ff"/><ellipse cx="189.8" cy="120.3" rx="2.2" ry="1.1" fill="#004aff"/><ellipse cx="180.7" cy="158.1" rx="2.2" ry="1.1" fill="#00e2ff"/><ellipse cx="194.7" cy="165.7" rx="2.2" ry="1.1" fill="#004aff"/><ellipse cx="195.3" cy="129.2" rx="2.2" ry="1.1" fill="#004aff"/><ellipse cx="177.2" cy="116.3" rx="2.2" ry="1.1" fill="#004aff"/><ellipse cx="189.5" cy="188.9" rx="2.2" ry="1.1" fill="#0018ff"/><ellipse cx="206.8" cy="127.5" rx="2.2" ry="1.1" fill="#00e2ff"/><ellipse cx="174.1" cy="115.1" rx="2.2" ry="1.1" fill="#004aff"/><ellipse cx="193.6" cy="174.0" rx="2.2" ry="1.1" fill="#004aff"/><ellipse cx="180.6" cy="143.1" rx="2.2" ry="1.1" fill="#0018ff"/><ellipse cx="176.9" cy="140.0" rx="2.2" ry="1.1" fill="#004aff"/><ellipse cx="175.4" cy="167.7" rx="2.2" ry="1.1" fill="#004aff"/><ellipse cx="175.1" cy="110.1" rx="2.2" ry="1.1" fill="#004aff"/><ellipse cx="175.2" cy="110.5" rx="2.2" ry="1.1" fill="#00e2ff"/><ellipse cx="187.6" cy="152.3" rx="2.2" ry="1.1" fill="#00e2ff"/><ellipse cx="179.0" cy="182.7" rx="2.2" ry="1.1" fill="#004aff"/><ellipse cx="197.3" cy="144.0" rx="2.2" ry="1.1" fill="#0018ff"/><ellipse cx="192.1" cy="112.7" rx="2.2" ry="1.1" fill="#00e2ff"/><ellipse cx="204.4" cy="156.1" rx="2.2" ry="1.1" fill="#0018ff"/><ellipse cx="195.0" cy="147.7" rx="2.2" ry="1.1" fill="#0018ff"/><ellipse cx="189.9" cy="183.9" rx="2.2" ry="1.1" fill="#004aff"/><ellipse cx="181.8" cy="188.9" rx="2.2" ry="1.1" fill="#004aff"/><ellipse cx="182.4" cy="180.0" rx="2.2" ry="1.1" fill="#00e2ff"/><ellipse cx="175.1" cy="133.5" rx="2.2" ry="1.1" fill="#0018ff"/><ellipse cx="200.3" cy="113.4" rx="2.2" ry="1.1" fill="#00e2ff"/><ellipse cx="187.9" cy="181.3" rx="2.2" ry="1.1" fill="#0018ff"/><ellipse cx="171.7" cy="110.5" rx="2.2" ry="1.1" fill="#004aff"/><ellipse cx="204.7" cy="114.8" rx="2.2" ry="1.1" fill="#00e2ff"/><ellipse cx="178.3" cy="155.3" rx="2.2" ry="1.1" fill="#00e2ff"/><ellipse cx="196.9" cy="119.9" rx="2.2" ry="1.1" fill="#004aff"/><ellipse cx="185.5" cy="118.5" rx="2.2" ry="1.1" fill="#0018ff"/><ellipse cx="175.9" cy="158.9" rx="2.2" ry="1.1" fill="#004aff"/><ellipse cx="194.2" cy="187.0" rx="2.2" ry="1.1" fill="#0018ff"/><ellipse cx="172.4" cy="162.4" rx="2.2" ry="1.1" fill="#0018ff"/><ellipse cx="197.2" cy="149.2" rx="2.2" ry="1.1" fill="#004aff"/><ellipse cx="205.5" cy="120.1" rx="2.2" ry="1.1" fill="#004aff"/><ellipse cx="181.0" cy="151.5" rx="2.2" ry="1.1" fill="#00e2ff"/><ellipse cx="197.0" cy="168.0" rx="2.2" ry="1.1" fill="#00e2ff"/><ellipse cx="204.5" cy="176.9" rx="2.2" ry="1.1" fill="#004aff"/><ellipse cx="185.5" cy="121.3" rx="2.2" ry="1.1" fill="#004aff"/><ellipse cx="191.0" cy="165.4" rx="2.2" ry="1.1" fill="#0018ff"/><ellipse cx="192.3" cy="175.4" rx="2.2" ry="1.1" fill="#0018ff"/><ellipse cx="208.9" cy="156.0" rx="2.2" ry="1.1" fill="#007dff"/><ellipse cx="228.9" cy="205.2" rx="2.2" ry="1.1" fill="#0018ff"/><ellipse cx="231.8" cy="190.4" rx="2.2" ry="1.1" fill="#0018ff"/><ellipse cx="210.5" cy="164.1" rx="2.2" ry="1.1" fill="#007dff"/><ellipse cx="226.3" cy="204.3" rx="2.2" ry="1.1" fill="#00e2ff"/><ellipse cx="218.9" cy="179.7" rx="2.2" ry="1.1" fill="#0018ff"/><ellipse cx="211.2" cy="211.2" rx="2.2" ry="1.1" fill="#15ffea"/><ellipse cx="209.6" cy="179.1" rx="2.2" ry="1.1" fill="#00e2ff"/><ellipse cx="211.6" cy="154.7" rx="2.2" ry="1.1" fill="#007dff"/><ellipse cx="218.0" cy="211.8" rx="2.2" ry="1.1" fill="#007dff"/><ellipse cx="219.7" cy="192.9" rx="2.2" ry="1.1" fill="#15ffea"/><ellipse cx="231.0" cy="156.2" rx="2.2" ry="1.1" fill="#0018ff"/><ellipse cx="220.1" cy="171.5" rx="2.2" ry="1.1" fill="#15ffea"/><ellipse cx="226.2" cy="176.1" rx="2.2" ry="1.1" fill="#00e2ff"/><ellipse cx="226.4" cy="206.1" rx="2.2" ry="1.1" fill="#0018ff"/><ellipse cx="227.7" cy="202.0" rx="2.2" ry="1.1" fill="#007dff"/><ellipse cx="221.5" cy="156.8" rx="2.2" ry="1.1" fill="#15ffea"/><ellipse cx="233.6" cy="187.2" rx="2.2" ry="1.1" fill="#0018ff"/><ellipse cx="215.5" cy="179.6" rx="2.2" ry="1.1" fill="#15ffea"/><ellipse cx="224.7" cy="199.6" rx="2.2" ry="1.1" fill="#0018ff"/><ellipse cx="217.9" cy="158.7" rx="2.2" ry="1.1" fill="#15ffea"/><ellipse cx="231.6" cy="204.2" rx="2.2" ry="1.1" fill="#0018ff"/><ellipse cx="217.6" cy="182.0" rx="2.2" ry="1.1" fill="#007dff"/><ellipse cx="214.4" cy="206.7" rx="2.2" ry="1.1" fill="#007dff"/><ellipse cx="220.3" cy="185.7" rx="2.2" ry="1.1" fill="#0018ff"/><ellipse cx="223.6" cy="173.6" rx="2.2" ry="1.1" fill="#00e2ff"/><ellipse cx="220.9" cy="155.8" rx="2.2" ry="1.1" fill="#007dff"/><ellipse cx="233.5" cy="195.8" rx="2.2" ry="1.1" fill="#00e2ff"/><ellipse cx="207.0" cy="177.0" rx="2.2" ry="1.1" fill="#0018ff"/><ellipse cx="227.5" cy="177.0" rx="2.2" ry="1.1" fill="#00e2ff"/></g></g>
<g clip-path="url(#axclip)"><use href="#states"/></g>
<rect x="0" y="0" width="234.2" height="214.0" fill="none" stroke="#000" stroke-width="1"/>
<text class="b" font-size="12.7" text-anchor="middle" x="44.8" y="-19.2">100<tspan font-size="10" dx="1.6" dy="-6.3">°</tspan><tspan dx="1.6" dy="6.3"> W</tspan></text>
<text class="b" font-size="12.7" text-anchor="middle" x="110.3" y="-19.2">90<tspan font-size="10" dx="1.6" dy="-6.3">°</tspan><tspan dx="1.6" dy="6.3"> W</tspan></text>
<text class="b" font-size="12.7" text-anchor="middle" x="173.6" y="-19.2">80<tspan font-size="10" dx="1.6" dy="-6.3">°</tspan><tspan dx="1.6" dy="6.3"> W</tspan></text>
<text class="b" font-size="12.7" text-anchor="middle" x="236.9" y="-19.2">70<tspan font-size="10" dx="1.6" dy="-6.3">°</tspan><tspan dx="1.6" dy="6.3"> W</tspan></text>
<text class="b" font-size="12.7" text-anchor="end" x="-10.5" y="219.2">22<tspan font-size="10" dx="1.1" dy="-7.2">°</tspan><tspan dx="-0.2" dy="7.2"> N</tspan></text>
<text class="b" font-size="12.7" text-anchor="end" x="-10.5" y="205.9">24<tspan font-size="10" dx="1.1" dy="-7.2">°</tspan><tspan dx="-0.2" dy="7.2"> N</tspan></text>
<text class="b" font-size="12.7" text-anchor="end" x="-10.5" y="191.8">26<tspan font-size="10" dx="1.1" dy="-7.2">°</tspan><tspan dx="-0.2" dy="7.2"> N</tspan></text>
<text class="b" font-size="12.7" text-anchor="end" x="-10.5" y="177.3">28<tspan font-size="10" dx="1.1" dy="-7.2">°</tspan><tspan dx="-0.2" dy="7.2"> N</tspan></text>
<text class="b" font-size="12.7" text-anchor="end" x="-10.5" y="163.5">30<tspan font-size="10" dx="1.1" dy="-7.2">°</tspan><tspan dx="-0.2" dy="7.2"> N</tspan></text>
<text class="b" font-size="12.7" text-anchor="end" x="-10.5" y="149.8">32<tspan font-size="10" dx="1.1" dy="-7.2">°</tspan><tspan dx="-0.2" dy="7.2"> N</tspan></text>
<text class="b" font-size="12.7" text-anchor="end" x="-10.5" y="132.9">34<tspan font-size="10" dx="1.1" dy="-7.2">°</tspan><tspan dx="-0.2" dy="7.2"> N</tspan></text>
<text class="b" font-size="12.7" text-anchor="end" x="-10.5" y="118.9">36<tspan font-size="10" dx="1.1" dy="-7.2">°</tspan><tspan dx="-0.2" dy="7.2"> N</tspan></text>
<text class="b" font-size="12.7" text-anchor="end" x="-10.5" y="102.1">38<tspan font-size="10" dx="1.1" dy="-7.2">°</tspan><tspan dx="-0.2" dy="7.2"> N</tspan></text>
<text class="b" font-size="12.7" text-anchor="end" x="-10.5" y="87.1">40<tspan font-size="10" dx="1.1" dy="-7.2">°</tspan><tspan dx="-0.2" dy="7.2"> N</tspan></text>
<text class="b" font-size="12.7" text-anchor="end" x="-10.5" y="71.2">42<tspan font-size="10" dx="1.1" dy="-7.2">°</tspan><tspan dx="-0.2" dy="7.2"> N</tspan></text>
<text class="b" font-size="12.7" text-anchor="end" x="-10.5" y="52.5">44<tspan font-size="10" dx="1.1" dy="-7.2">°</tspan><tspan dx="-0.2" dy="7.2"> N</tspan></text>
<text class="b" font-size="12.7" text-anchor="end" x="-10.5" y="35.1">46<tspan font-size="10" dx="1.1" dy="-7.2">°</tspan><tspan dx="-0.2" dy="7.2"> N</tspan></text>
<text class="b" font-size="12.7" text-anchor="end" x="-10.5" y="16.6">48<tspan font-size="10" dx="1.1" dy="-7.2">°</tspan><tspan dx="-0.2" dy="7.2"> N</tspan></text>
<rect x="245.5" y="-0.5" width="23.5" height="214.8" fill="url(#jet)" stroke="#262626" stroke-width="0.8"/>
<line x1="266.7" x2="269.0" y1="214.0" y2="214.0" stroke="#262626" stroke-width="0.8"/>
<text class="b" font-size="20.6" x="277.3" y="220.9">0</text>
<line x1="266.7" x2="269.0" y1="108.1" y2="108.1" stroke="#262626" stroke-width="0.8"/>
<text class="b" font-size="20.6" x="277.3" y="115.0">5</text>
<line x1="266.7" x2="269.0" y1="2.1" y2="2.1" stroke="#262626" stroke-width="0.8"/>
<text class="b" font-size="20.6" x="277.3" y="9.0">10</text>
<text class="b" font-size="23" text-anchor="middle" x="111.8" y="244.8">SAT+RAP 700 hPa MR (g/kg)</text>
</g>
<g transform="translate(1037.8,95.8)">
<g clip-path="url(#swath)"><rect x="40" y="-10" width="210" height="240" fill="#0000ff"/><g filter="url(#bl)"><ellipse cx="76.0" cy="61.4" rx="20.4" ry="11.5" fill="#0065ff" transform="rotate(-15 76.0 61.4)"/><ellipse cx="68.1" cy="79.6" rx="6.3" ry="9.8" fill="#00c0ff" transform="rotate(-20 68.1 79.6)"/><ellipse cx="89.1" cy="65.7" rx="16.6" ry="4.9" fill="#00c0ff" transform="rotate(-18 89.1 65.7)"/><ellipse cx="115.5" cy="54.5" rx="9.8" ry="4.1" fill="#0093ff" transform="rotate(-25 115.5 54.5)"/><ellipse cx="143.3" cy="49.1" rx="12.5" ry="7.6" fill="#00a2ff" transform="rotate(-20 143.3 49.1)"/><ellipse cx="86.1" cy="88.1" rx="8.5" ry="9.8" fill="#0074ff"/><ellipse cx="136.2" cy="60.3" rx="8.5" ry="3.5" fill="#0083ff" transform="rotate(-10 136.2 60.3)"/><ellipse cx="61.0" cy="49.1" rx="7.6" ry="5.5" fill="#00a2ff"/><ellipse cx="84.2" cy="64.6" rx="20.4" ry="5.5" fill="#00b1ff" transform="rotate(-12 84.2 64.6)"/><ellipse cx="76.0" cy="60.0" rx="10.9" ry="6.8" fill="#0083ff" transform="rotate(-20 76.0 60.0)"/><ellipse cx="114.2" cy="60.0" rx="10.9" ry="6.0" fill="#0065ff" transform="rotate(-25 114.2 60.0)"/><ellipse cx="84.2" cy="84.5" rx="10.9" ry="12.3" fill="#005cff"/><ellipse cx="80.1" cy="102.3" rx="4.9" ry="16.4" fill="#0056ff" transform="rotate(12 80.1 102.3)"/><ellipse cx="133.2" cy="50.5" rx="6.0" ry="13.6" fill="#0074ff" transform="rotate(20 133.2 50.5)"/><ellipse cx="151.0" cy="39.5" rx="12.3" ry="6.0" fill="#0056ff" transform="rotate(-30 151.0 39.5)"/><ellipse cx="185.0" cy="23.2" rx="30.0" ry="6.8" fill="#0037ff" transform="rotate(-10 185.0 23.2)"/><ellipse cx="206.8" cy="39.5" rx="16.4" ry="10.9" fill="#0028ff"/><ellipse cx="122.3" cy="31.4" rx="13.6" ry="5.5" fill="#0037ff" transform="rotate(-20 122.3 31.4)"/><ellipse cx="146.9" cy="83.2" rx="16.4" ry="10.9" fill="#0000db"/><ellipse cx="130.5" cy="113.2" rx="16.4" ry="13.6" fill="#0000d5"/><ellipse cx="122.3" cy="140.4" rx="13.6" ry="10.9" fill="#0000db"/><ellipse cx="204.1" cy="124.1" rx="15.0" ry="23.2" fill="#0000db"/><ellipse cx="190.5" cy="159.5" rx="21.8" ry="15.0" fill="#003dff"/><ellipse cx="220.5" cy="194.9" rx="12.3" ry="15.0" fill="#0037ff"/><ellipse cx="138.7" cy="181.3" rx="10.9" ry="17.7" fill="#000aff"/><ellipse cx="179.6" cy="87.8" rx="15.0" ry="3.5" fill="#00c0ff" transform="rotate(-15 179.6 87.8)"/><ellipse cx="204.1" cy="75.5" rx="15.0" ry="3.5" fill="#00eeff" transform="rotate(-25 204.1 75.5)"/><ellipse cx="223.8" cy="68.4" rx="10.9" ry="3.8" fill="#0dfff2" transform="rotate(-8 223.8 68.4)"/><ellipse cx="160.5" cy="94.6" rx="6.8" ry="2.7" fill="#0093ff" transform="rotate(-20 160.5 94.6)"/><ellipse cx="171.4" cy="120.0" rx="20.4" ry="11.5" fill="#0093ff" transform="rotate(-32 171.4 120.0)"/><ellipse cx="168.7" cy="121.3" rx="15.0" ry="8.7" fill="#00cfff" transform="rotate(-32 168.7 121.3)"/><ellipse cx="185.0" cy="111.0" rx="8.2" ry="4.9" fill="#00b1ff"/><ellipse cx="157.2" cy="112.6" rx="6.8" ry="3.8" fill="#0093ff"/><ellipse cx="174.1" cy="135.0" rx="6.8" ry="5.5" fill="#0093ff" transform="rotate(-30 174.1 135.0)"/><ellipse cx="225.9" cy="115.9" rx="10.4" ry="40.9" fill="#00fdff"/><ellipse cx="224.6" cy="87.3" rx="15.8" ry="10.9" fill="#59ffa6"/><ellipse cx="213.7" cy="165.0" rx="6.0" ry="19.1" fill="#00c0ff" transform="rotate(38 213.7 165.0)"/><ellipse cx="215.6" cy="89.2" rx="5.5" ry="7.1" fill="#4affb5"/><ellipse cx="220.5" cy="109.1" rx="3.0" ry="11.5" fill="#0dfff2"/><ellipse cx="218.3" cy="156.8" rx="3.8" ry="8.2" fill="#0dfff2" transform="rotate(30 218.3 156.8)"/><ellipse cx="210.1" cy="169.9" rx="3.8" ry="8.2" fill="#00eeff" transform="rotate(40 210.1 169.9)"/><ellipse cx="198.7" cy="181.3" rx="8.2" ry="3.8" fill="#00eeff" transform="rotate(-30 198.7 181.3)"/><ellipse cx="226.5" cy="85.9" rx="10.9" ry="6.5" fill="#e2ff1d"/><ellipse cx="231.9" cy="82.6" rx="6.8" ry="4.9" fill="#ffc000"/><ellipse cx="229.2" cy="97.3" rx="7.1" ry="5.5" fill="#ff9300"/><ellipse cx="231.9" cy="116.4" rx="4.6" ry="14.2" fill="#ff5600"/><ellipse cx="227.6" cy="135.5" rx="3.8" ry="8.2" fill="#ff8300"/><ellipse cx="223.8" cy="148.6" rx="3.5" ry="4.9" fill="#ffc000"/><ellipse cx="219.4" cy="158.4" rx="2.7" ry="2.7" fill="#c4ff3b"/><ellipse cx="232.7" cy="170.4" rx="2.7" ry="13.6" fill="#00a2ff"/><ellipse cx="115.5" cy="188.1" rx="15.0" ry="25.9" fill="#00dfff" transform="rotate(-18 115.5 188.1)"/><ellipse cx="149.6" cy="208.0" rx="40.9" ry="7.1" fill="#00dfff"/><ellipse cx="171.4" cy="188.1" rx="24.5" ry="8.7" fill="#00a2ff"/><ellipse cx="110.1" cy="173.7" rx="4.4" ry="6.0" fill="#4affb5"/><ellipse cx="114.2" cy="182.7" rx="9.3" ry="13.6" fill="#f2ff0d" transform="rotate(-20 114.2 182.7)"/><ellipse cx="124.5" cy="184.6" rx="2.5" ry="10.4" fill="#ff6500" transform="rotate(-25 124.5 184.6)"/><ellipse cx="117.4" cy="201.8" rx="7.6" ry="7.6" fill="#4affb5"/><ellipse cx="122.3" cy="167.7" rx="3.8" ry="3.8" fill="#69ff96"/><ellipse cx="136.0" cy="209.1" rx="13.6" ry="3.8" fill="#e2ff1d"/><ellipse cx="157.8" cy="209.1" rx="10.9" ry="3.0" fill="#ff9300"/><ellipse cx="146.9" cy="202.0" rx="10.9" ry="3.5" fill="#2cffd3"/><ellipse cx="174.1" cy="200.9" rx="6.8" ry="4.9" fill="#c4ff3b"/><ellipse cx="185.0" cy="207.2" rx="8.2" ry="3.3" fill="#69ff96"/><ellipse cx="155.1" cy="185.7" rx="9.3" ry="4.9" fill="#00eeff"/><ellipse cx="174.1" cy="184.0" rx="8.2" ry="3.8" fill="#2cffd3"/><ellipse cx="182.9" cy="181.3" rx="2.5" ry="1.4" fill="#ff8300"/><ellipse cx="204.7" cy="188.1" rx="5.5" ry="1.6" fill="#ffc000"/><ellipse cx="191.0" cy="195.5" rx="10.9" ry="4.9" fill="#0dfff2"/><ellipse cx="171.4" cy="193.6" rx="3.3" ry="2.2" fill="#ffc000"/></g><g filter="url(#bl1)"><ellipse cx="179.1" cy="164.2" rx="2.2" ry="1.1" fill="#0093ff"/><ellipse cx="208.6" cy="161.1" rx="2.2" ry="1.1" fill="#0000f9"/><ellipse cx="195.1" cy="180.1" rx="2.2" ry="1.1" fill="#00b1ff"/><ellipse cx="180.0" cy="150.6" rx="2.2" ry="1.1" fill="#00b1ff"/><ellipse cx="192.3" cy="164.4" rx="2.2" ry="1.1" fill="#00b1ff"/><ellipse cx="196.6" cy="147.0" rx="2.2" ry="1.1" fill="#0019ff"/><ellipse cx="206.5" cy="163.2" rx="2.2" ry="1.1" fill="#0000f9"/><ellipse cx="198.0" cy="143.2" rx="2.2" ry="1.1" fill="#0000f9"/><ellipse cx="181.8" cy="141.8" rx="2.2" ry="1.1" fill="#0093ff"/><ellipse cx="189.3" cy="171.8" rx="2.2" ry="1.1" fill="#00b1ff"/><ellipse cx="199.8" cy="180.6" rx="2.2" ry="1.1" fill="#00b1ff"/><ellipse cx="200.4" cy="165.6" rx="2.2" ry="1.1" fill="#0019ff"/><ellipse cx="207.0" cy="144.7" rx="2.2" ry="1.1" fill="#0019ff"/><ellipse cx="190.3" cy="151.7" rx="2.2" ry="1.1" fill="#00b1ff"/><ellipse cx="202.7" cy="177.7" rx="2.2" ry="1.1" fill="#00b1ff"/><ellipse cx="190.8" cy="157.3" rx="2.2" ry="1.1" fill="#0093ff"/><ellipse cx="192.0" cy="158.2" rx="2.2" ry="1.1" fill="#0019ff"/><ellipse cx="208.1" cy="170.2" rx="2.2" ry="1.1" fill="#0000f9"/><ellipse cx="206.0" cy="183.6" rx="2.2" ry="1.1" fill="#0019ff"/><ellipse cx="199.2" cy="154.7" rx="2.2" ry="1.1" fill="#0000f9"/><ellipse cx="199.8" cy="149.6" rx="2.2" ry="1.1" fill="#0093ff"/><ellipse cx="181.1" cy="143.2" rx="2.2" ry="1.1" fill="#00b1ff"/><ellipse cx="172.5" cy="175.3" rx="2.2" ry="1.1" fill="#00b1ff"/><ellipse cx="207.8" cy="141.3" rx="2.2" ry="1.1" fill="#00b1ff"/><ellipse cx="202.2" cy="178.5" rx="2.2" ry="1.1" fill="#0000f9"/><ellipse cx="195.1" cy="173.6" rx="2.2" ry="1.1" fill="#00b1ff"/><ellipse cx="200.0" cy="154.9" rx="2.2" ry="1.1" fill="#0093ff"/><ellipse cx="190.7" cy="184.0" rx="2.2" ry="1.1" fill="#0093ff"/><ellipse cx="169.0" cy="145.1" rx="2.2" ry="1.1" fill="#0000f9"/><ellipse cx="210.1" cy="182.8" rx="2.2" ry="1.1" fill="#0093ff"/><ellipse cx="195.3" cy="147.2" rx="2.2" ry="1.1" fill="#0000f9"/><ellipse cx="211.4" cy="155.2" rx="2.2" ry="1.1" fill="#0093ff"/><ellipse cx="210.5" cy="179.5" rx="2.2" ry="1.1" fill="#00b1ff"/><ellipse cx="185.1" cy="178.4" rx="2.2" ry="1.1" fill="#00b1ff"/><ellipse cx="196.8" cy="166.4" rx="2.2" ry="1.1" fill="#0000f9"/><ellipse cx="195.7" cy="181.4" rx="2.2" ry="1.1" fill="#0093ff"/><ellipse cx="187.5" cy="171.8" rx="2.2" ry="1.1" fill="#0019ff"/><ellipse cx="209.5" cy="159.5" rx="2.2" ry="1.1" fill="#0093ff"/><ellipse cx="191.4" cy="164.3" rx="2.2" ry="1.1" fill="#0000f9"/><ellipse cx="203.1" cy="183.5" rx="2.2" ry="1.1" fill="#0093ff"/><ellipse cx="169.6" cy="167.3" rx="2.2" ry="1.1" fill="#0019ff"/><ellipse cx="171.3" cy="167.8" rx="2.2" ry="1.1" fill="#00b1ff"/><ellipse cx="184.1" cy="180.4" rx="2.2" ry="1.1" fill="#0093ff"/><ellipse cx="200.9" cy="141.4" rx="2.2" ry="1.1" fill="#0000f9"/><ellipse cx="210.3" cy="141.3" rx="2.2" ry="1.1" fill="#0093ff"/><ellipse cx="179.6" cy="160.3" rx="2.2" ry="1.1" fill="#0093ff"/><ellipse cx="176.4" cy="148.5" rx="2.2" ry="1.1" fill="#0093ff"/><ellipse cx="205.5" cy="151.9" rx="2.2" ry="1.1" fill="#00b1ff"/><ellipse cx="173.3" cy="175.9" rx="2.2" ry="1.1" fill="#0019ff"/><ellipse cx="182.2" cy="150.1" rx="2.2" ry="1.1" fill="#0093ff"/><ellipse cx="83.8" cy="81.1" rx="2.2" ry="1.1" fill="#0074ff"/><ellipse cx="97.2" cy="78.2" rx="2.2" ry="1.1" fill="#0093ff"/><ellipse cx="86.5" cy="85.9" rx="2.2" ry="1.1" fill="#0019ff"/><ellipse cx="90.3" cy="103.0" rx="2.2" ry="1.1" fill="#0019ff"/><ellipse cx="78.6" cy="99.3" rx="2.2" ry="1.1" fill="#0019ff"/><ellipse cx="104.9" cy="89.7" rx="2.2" ry="1.1" fill="#0019ff"/><ellipse cx="101.7" cy="76.1" rx="2.2" ry="1.1" fill="#0019ff"/><ellipse cx="86.3" cy="102.3" rx="2.2" ry="1.1" fill="#0093ff"/><ellipse cx="82.0" cy="84.1" rx="2.2" ry="1.1" fill="#0093ff"/><ellipse cx="78.8" cy="95.3" rx="2.2" ry="1.1" fill="#0093ff"/><ellipse cx="80.2" cy="84.5" rx="2.2" ry="1.1" fill="#0074ff"/><ellipse cx="91.2" cy="95.7" rx="2.2" ry="1.1" fill="#0074ff"/><ellipse cx="89.7" cy="88.4" rx="2.2" ry="1.1" fill="#0074ff"/><ellipse cx="81.1" cy="75.1" rx="2.2" ry="1.1" fill="#0093ff"/><ellipse cx="108.3" cy="89.2" rx="2.2" ry="1.1" fill="#0093ff"/><ellipse cx="83.3" cy="99.4" rx="2.2" ry="1.1" fill="#0093ff"/><ellipse cx="100.5" cy="106.5" rx="2.2" ry="1.1" fill="#0093ff"/><ellipse cx="87.1" cy="82.4" rx="2.2" ry="1.1" fill="#0019ff"/><ellipse cx="104.1" cy="106.8" rx="2.2" ry="1.1" fill="#0019ff"/><ellipse cx="102.5" cy="76.5" rx="2.2" ry="1.1" fill="#0093ff"/><ellipse cx="92.7" cy="81.5" rx="2.2" ry="1.1" fill="#0074ff"/><ellipse cx="94.9" cy="75.4" rx="2.2" ry="1.1" fill="#0093ff"/><ellipse cx="79.9" cy="91.5" rx="2.2" ry="1.1" fill="#0019ff"/><ellipse cx="97.7" cy="92.2" rx="2.2" ry="1.1" fill="#0074ff"/><ellipse cx="77.7" cy="104.9" rx="2.2" ry="1.1" fill="#0019ff"/><ellipse cx="140.1" cy="199.8" rx="2.2" ry="1.1" fill="#ff6500"/><ellipse cx="172.2" cy="196.1" rx="2.2" ry="1.1" fill="#69ff96"/><ellipse cx="130.3" cy="205.1" rx="2.2" ry="1.1" fill="#00eeff"/><ellipse cx="128.6" cy="210.1" rx="2.2" ry="1.1" fill="#69ff96"/><ellipse cx="173.0" cy="195.1" rx="2.2" ry="1.1" fill="#ff6500"/><ellipse cx="120.3" cy="200.1" rx="2.2" ry="1.1" fill="#ffc000"/><ellipse cx="159.0" cy="204.9" rx="2.2" ry="1.1" fill="#00eeff"/><ellipse cx="149.1" cy="209.8" rx="2.2" ry="1.1" fill="#00eeff"/><ellipse cx="175.3" cy="209.7" rx="2.2" ry="1.1" fill="#00eeff"/><ellipse cx="125.4" cy="196.3" rx="2.2" ry="1.1" fill="#00eeff"/><ellipse cx="175.1" cy="196.6" rx="2.2" ry="1.1" fill="#ff6500"/><ellipse cx="138.4" cy="200.9" rx="2.2" ry="1.1" fill="#ffc000"/><ellipse cx="143.2" cy="202.4" rx="2.2" ry="1.1" fill="#ffc000"/><ellipse cx="141.5" cy="198.6" rx="2.2" ry="1.1" fill="#ffc000"/><ellipse cx="146.1" cy="197.4" rx="2.2" ry="1.1" fill="#00eeff"/><ellipse cx="165.7" cy="202.2" rx="2.2" ry="1.1" fill="#00eeff"/><ellipse cx="155.5" cy="195.8" rx="2.2" ry="1.1" fill="#ff6500"/><ellipse cx="158.1" cy="209.9" rx="2.2" ry="1.1" fill="#ff6500"/><ellipse cx="160.3" cy="195.8" rx="2.2" ry="1.1" fill="#ff6500"/><ellipse cx="120.5" cy="206.9" rx="2.2" ry="1.1" fill="#ffc000"/><ellipse cx="145.5" cy="208.2" rx="2.2" ry="1.1" fill="#ff6500"/><ellipse cx="118.1" cy="199.1" rx="2.2" ry="1.1" fill="#ffc000"/><ellipse cx="164.3" cy="196.3" rx="2.2" ry="1.1" fill="#ff6500"/><ellipse cx="132.2" cy="197.4" rx="2.2" ry="1.1" fill="#00eeff"/><ellipse cx="180.7" cy="202.1" rx="2.2" ry="1.1" fill="#ffc000"/><ellipse cx="125.2" cy="208.1" rx="2.2" ry="1.1" fill="#ff6500"/><ellipse cx="162.4" cy="208.9" rx="2.2" ry="1.1" fill="#00eeff"/><ellipse cx="172.2" cy="208.6" rx="2.2" ry="1.1" fill="#ff6500"/><ellipse cx="126.7" cy="209.7" rx="2.2" ry="1.1" fill="#00eeff"/><ellipse cx="152.8" cy="205.7" rx="2.2" ry="1.1" fill="#ff6500"/><ellipse cx="129.1" cy="195.4" rx="2.2" ry="1.1" fill="#00eeff"/><ellipse cx="118.6" cy="197.1" rx="2.2" ry="1.1" fill="#ff6500"/><ellipse cx="173.9" cy="213.1" rx="2.2" ry="1.1" fill="#ffc000"/><ellipse cx="171.3" cy="195.6" rx="2.2" ry="1.1" fill="#69ff96"/><ellipse cx="124.2" cy="209.2" rx="2.2" ry="1.1" fill="#00eeff"/></g></g>
<g clip-path="url(#axclip)"><use href="#states"/></g>
<rect x="0" y="0" width="234.2" height="214.0" fill="none" stroke="#000" stroke-width="1"/>
<text class="b" font-size="12.7" text-anchor="middle" x="46.7" y="-20.8">100<tspan font-size="10" dx="1.6" dy="-6.3">°</tspan><tspan dx="1.6" dy="6.3"> W</tspan></text>
<text class="b" font-size="12.7" text-anchor="middle" x="112.2" y="-20.8">90<tspan font-size="10" dx="1.6" dy="-6.3">°</tspan><tspan dx="1.6" dy="6.3"> W</tspan></text>
<text class="b" font-size="12.7" text-anchor="middle" x="175.5" y="-20.8">80<tspan font-size="10" dx="1.6" dy="-6.3">°</tspan><tspan dx="1.6" dy="6.3"> W</tspan></text>
<text class="b" font-size="12.7" text-anchor="middle" x="238.8" y="-20.8">70<tspan font-size="10" dx="1.6" dy="-6.3">°</tspan><tspan dx="1.6" dy="6.3"> W</tspan></text>
<text class="b" font-size="12.7" text-anchor="end" x="-10.5" y="219.2">22<tspan font-size="10" dx="1.1" dy="-7.2">°</tspan><tspan dx="-0.2" dy="7.2"> N</tspan></text>
<text class="b" font-size="12.7" text-anchor="end" x="-10.5" y="205.9">24<tspan font-size="10" dx="1.1" dy="-7.2">°</tspan><tspan dx="-0.2" dy="7.2"> N</tspan></text>
<text class="b" font-size="12.7" text-anchor="end" x="-10.5" y="191.8">26<tspan font-size="10" dx="1.1" dy="-7.2">°</tspan><tspan dx="-0.2" dy="7.2"> N</tspan></text>
<text class="b" font-size="12.7" text-anchor="end" x="-10.5" y="177.3">28<tspan font-size="10" dx="1.1" dy="-7.2">°</tspan><tspan dx="-0.2" dy="7.2"> N</tspan></text>
<text class="b" font-size="12.7" text-anchor="end" x="-10.5" y="163.5">30<tspan font-size="10" dx="1.1" dy="-7.2">°</tspan><tspan dx="-0.2" dy="7.2"> N</tspan></text>
<text class="b" font-size="12.7" text-anchor="end" x="-10.5" y="149.8">32<tspan font-size="10" dx="1.1" dy="-7.2">°</tspan><tspan dx="-0.2" dy="7.2"> N</tspan></text>
<text class="b" font-size="12.7" text-anchor="end" x="-10.5" y="132.9">34<tspan font-size="10" dx="1.1" dy="-7.2">°</tspan><tspan dx="-0.2" dy="7.2"> N</tspan></text>
<text class="b" font-size="12.7" text-anchor="end" x="-10.5" y="118.9">36<tspan font-size="10" dx="1.1" dy="-7.2">°</tspan><tspan dx="-0.2" dy="7.2"> N</tspan></text>
<text class="b" font-size="12.7" text-anchor="end" x="-10.5" y="102.1">38<tspan font-size="10" dx="1.1" dy="-7.2">°</tspan><tspan dx="-0.2" dy="7.2"> N</tspan></text>
<text class="b" font-size="12.7" text-anchor="end" x="-10.5" y="87.1">40<tspan font-size="10" dx="1.1" dy="-7.2">°</tspan><tspan dx="-0.2" dy="7.2"> N</tspan></text>
<text class="b" font-size="12.7" text-anchor="end" x="-10.5" y="71.2">42<tspan font-size="10" dx="1.1" dy="-7.2">°</tspan><tspan dx="-0.2" dy="7.2"> N</tspan></text>
<text class="b" font-size="12.7" text-anchor="end" x="-10.5" y="52.5">44<tspan font-size="10" dx="1.1" dy="-7.2">°</tspan><tspan dx="-0.2" dy="7.2"> N</tspan></text>
<text class="b" font-size="12.7" text-anchor="end" x="-10.5" y="35.1">46<tspan font-size="10" dx="1.1" dy="-7.2">°</tspan><tspan dx="-0.2" dy="7.2"> N</tspan></text>
<text class="b" font-size="12.7" text-anchor="end" x="-10.5" y="16.6">48<tspan font-size="10" dx="1.1" dy="-7.2">°</tspan><tspan dx="-0.2" dy="7.2"> N</tspan></text>
<rect x="247.5" y="-0.5" width="23.5" height="214.8" fill="url(#jet)" stroke="#262626" stroke-width="0.8"/>
<line x1="268.7" x2="271.0" y1="214.0" y2="214.0" stroke="#262626" stroke-width="0.8"/>
<text class="b" font-size="20.6" x="279.3" y="220.9">0</text>
<line x1="268.7" x2="271.0" y1="150.1" y2="150.1" stroke="#262626" stroke-width="0.8"/>
<text class="b" font-size="20.6" x="279.3" y="157.0">1</text>
<line x1="268.7" x2="271.0" y1="86.2" y2="86.2" stroke="#262626" stroke-width="0.8"/>
<text class="b" font-size="20.6" x="279.3" y="93.1">2</text>
<line x1="268.7" x2="271.0" y1="22.4" y2="22.4" stroke="#262626" stroke-width="0.8"/>
<text class="b" font-size="20.6" x="279.3" y="29.3">3</text>
<text class="b" font-size="23" text-anchor="middle" x="111.8" y="244.8">SAT+RAP 500 hPa MR (g/kg)</text>
</g>
<g transform="translate(195.7,485.8)">
<mask id="m4" maskUnits="userSpaceOnUse" x="0" y="-10" width="260" height="240"><rect x="0" y="-10" width="260" height="240" fill="#fff"/><g fill="#000" stroke="#000" stroke-width="3.6" stroke-linejoin="round"><polygon points="47.3,49.0 55.0,49.0 57.1,44.2 61.3,42.1 72.4,38.6 82.2,34.8 89.1,31.6 89.8,22.6 100.3,19.1 115.6,17.0 126.8,19.8 137.9,20.5 144.9,24.7 150.4,28.8 151.8,24.0 160.2,19.8 165.8,14.2 165.8,3.1 47.3,3.1"/><polygon points="55.7,52.5 59.9,54.6 65.2,56.7 67.1,69.9 69.8,78.0 73.1,72.7 75.2,69.9 82.2,65.1 89.1,60.9 96.1,55.3 101.0,53.2 104.5,53.9 110.0,54.6 115.6,57.4 121.2,58.8 121.2,65.8 110.0,81.1 103.1,97.8 101.7,103.4 96.1,104.8 94.7,97.8 94.7,89.4 87.7,88.0 82.2,89.4 81.5,103.4 80.8,111.7 68.2,111.7 54.3,69.9"/><polygon points="170.0,81.3 170.7,72.2 175.6,66.7 186.8,64.6 196.5,59.7 203.5,49.9 210.4,38.8 211.8,29.0 232.7,19.3 235.5,29.0 214.6,36.0 211.8,56.9 209.0,66.7 203.5,72.2 197.9,80.6 192.3,83.4 186.8,91.7 181.2,102.9 174.2,105.7 170.0,100.1 172.8,91.7 175.6,84.8"/><polygon points="167.2,109.8 184.0,109.8 186.8,118.1 179.8,122.3 170.0,120.9"/><polygon points="209.0,70.2 233.6,64.9 241.0,64.9 241.0,96.9 221.0,96.9 218.3,88.9 211.6,83.5 207.6,78.2"/><polygon points="181.2,150.2 192.3,146.0 200.7,150.2 203.5,159.9 195.1,169.7 184.0,173.9 178.4,165.5"/><polygon points="203.5,127.9 211.8,127.9 211.8,136.2 203.5,136.2"/><polygon points="223.0,97.2 239.7,97.2 239.7,154.4 225.8,155.8 224.4,162.7 220.2,165.5 211.8,169.7 209.0,176.7 204.9,173.9 211.8,159.9 217.4,146.0 221.6,132.1 224.4,118.1"/><polygon points="103.2,159.9 114.0,167.2 126.6,182.6 145.0,202.2 140.2,212.7 139.4,229.6 103.2,229.6"/></g><g fill="none" stroke="#fff" stroke-width="5.4" stroke-linecap="round" stroke-linejoin="round" stroke-dasharray="0.01 5.6"><polygon points="47.3,49.0 55.0,49.0 57.1,44.2 61.3,42.1 72.4,38.6 82.2,34.8 89.1,31.6 89.8,22.6 100.3,19.1 115.6,17.0 126.8,19.8 137.9,20.5 144.9,24.7 150.4,28.8 151.8,24.0 160.2,19.8 165.8,14.2 165.8,3.1 47.3,3.1"/><polygon points="55.7,52.5 59.9,54.6 65.2,56.7 67.1,69.9 69.8,78.0 73.1,72.7 75.2,69.9 82.2,65.1 89.1,60.9 96.1,55.3 101.0,53.2 104.5,53.9 110.0,54.6 115.6,57.4 121.2,58.8 121.2,65.8 110.0,81.1 103.1,97.8 101.7,103.4 96.1,104.8 94.7,97.8 94.7,89.4 87.7,88.0 82.2,89.4 81.5,103.4 80.8,111.7 68.2,111.7 54.3,69.9"/><polygon points="170.0,81.3 170.7,72.2 175.6,66.7 186.8,64.6 196.5,59.7 203.5,49.9 210.4,38.8 211.8,29.0 232.7,19.3 235.5,29.0 214.6,36.0 211.8,56.9 209.0,66.7 203.5,72.2 197.9,80.6 192.3,83.4 186.8,91.7 181.2,102.9 174.2,105.7 170.0,100.1 172.8,91.7 175.6,84.8"/><polygon points="167.2,109.8 184.0,109.8 186.8,118.1 179.8,122.3 170.0,120.9"/><polygon points="209.0,70.2 233.6,64.9 241.0,64.9 241.0,96.9 221.0,96.9 218.3,88.9 211.6,83.5 207.6,78.2"/><polygon points="181.2,150.2 192.3,146.0 200.7,150.2 203.5,159.9 195.1,169.7 184.0,173.9 178.4,165.5"/><polygon points="203.5,127.9 211.8,127.9 211.8,136.2 203.5,136.2"/><polygon points="223.0,97.2 239.7,97.2 239.7,154.4 225.8,155.8 224.4,162.7 220.2,165.5 211.8,169.7 209.0,176.7 204.9,173.9 211.8,159.9 217.4,146.0 221.6,132.1 224.4,118.1"/><polygon points="103.2,159.9 114.0,167.2 126.6,182.6 145.0,202.2 140.2,212.7 139.4,229.6 103.2,229.6"/></g><g fill="#000" stroke="#000" stroke-width="4" stroke-linejoin="round" stroke-linecap="round" stroke-dasharray="0.01 5"></g></mask><g clip-path="url(#swath)"><g mask="url(#m4)"><rect x="40" y="-10" width="210" height="240" fill="#76ff89"/><g filter="url(#bl)"><ellipse cx="76.1" cy="52.8" rx="19.1" ry="13.6" fill="#ffee00"/><ellipse cx="59.7" cy="47.4" rx="3.8" ry="4.9" fill="#ff4b00"/><ellipse cx="103.4" cy="43.3" rx="16.4" ry="19.1" fill="#ccff33"/><ellipse cx="136.1" cy="48.7" rx="13.6" ry="16.4" fill="#ccff33"/><ellipse cx="138.8" cy="52.8" rx="6.8" ry="8.2" fill="#f3ff0c"/><ellipse cx="114.3" cy="26.9" rx="16.4" ry="6.8" fill="#fff800" transform="rotate(-15 114.3 26.9)"/><ellipse cx="185.1" cy="29.6" rx="32.7" ry="13.6" fill="#c3ff3c" transform="rotate(-15 185.1 29.6)"/><ellipse cx="179.7" cy="24.2" rx="13.6" ry="3.8" fill="#ffdb00" transform="rotate(-20 179.7 24.2)"/><ellipse cx="157.9" cy="62.4" rx="10.9" ry="10.9" fill="#b9ff46"/><ellipse cx="84.3" cy="46.0" rx="5.5" ry="3.3" fill="#ffbe00"/><ellipse cx="147.0" cy="125.1" rx="16.4" ry="16.4" fill="#46ffb9"/><ellipse cx="157.9" cy="108.7" rx="10.9" ry="5.5" fill="#29ffd6"/><ellipse cx="212.4" cy="157.8" rx="21.8" ry="60.0" fill="#00e5ff" transform="rotate(20 212.4 157.8)"/><ellipse cx="179.7" cy="201.4" rx="38.2" ry="16.4" fill="#00e5ff"/><ellipse cx="147.0" cy="185.0" rx="16.4" ry="21.8" fill="#3cffc3"/><ellipse cx="212.9" cy="130.5" rx="7.1" ry="24.5" fill="#0024ff" transform="rotate(12 212.9 130.5)"/><ellipse cx="205.6" cy="88.3" rx="3.8" ry="3.8" fill="#00eeff"/><ellipse cx="206.4" cy="93.4" rx="2.7" ry="1.6" fill="#ff8400"/><ellipse cx="209.7" cy="103.3" rx="6.0" ry="8.2" fill="#00d1ff"/><ellipse cx="196.0" cy="168.7" rx="7.6" ry="21.8" fill="#0000fd" transform="rotate(35 196.0 168.7)"/><ellipse cx="174.2" cy="204.1" rx="10.9" ry="6.0" fill="#0000e0"/><ellipse cx="220.6" cy="179.6" rx="8.2" ry="16.4" fill="#0071ff"/><ellipse cx="168.8" cy="125.1" rx="8.2" ry="10.9" fill="#a6ff59"/><ellipse cx="185.1" cy="146.9" rx="8.2" ry="8.2" fill="#d6ff29"/><ellipse cx="182.4" cy="182.3" rx="3.3" ry="2.2" fill="#ff7100"/><ellipse cx="190.6" cy="185.0" rx="2.2" ry="1.6" fill="#ff2e00"/></g><circle cx="205.4" cy="179.2" r="2.5" fill="#b0ff4f"/><circle cx="160.1" cy="143.8" r="2.5" fill="#00beff"/><circle cx="207.4" cy="199.6" r="2.5" fill="#002eff"/><circle cx="186.3" cy="195.4" r="2.5" fill="#63ff9c"/><circle cx="199.4" cy="157.7" r="2.5" fill="#002eff"/><circle cx="213.7" cy="136.5" r="2.5" fill="#00beff"/><circle cx="227.8" cy="182.3" r="2.5" fill="#00beff"/><circle cx="216.0" cy="93.4" r="2.5" fill="#b0ff4f"/><circle cx="205.0" cy="100.4" r="2.5" fill="#002eff"/><circle cx="232.1" cy="84.8" r="2.5" fill="#00beff"/><circle cx="231.2" cy="105.4" r="2.5" fill="#00beff"/><circle cx="180.0" cy="207.4" r="2.5" fill="#b0ff4f"/><circle cx="224.8" cy="164.3" r="2.5" fill="#00beff"/><circle cx="229.7" cy="172.7" r="2.5" fill="#63ff9c"/><circle cx="180.7" cy="130.4" r="2.5" fill="#00beff"/><circle cx="229.3" cy="118.0" r="2.5" fill="#0cfff3"/><circle cx="180.9" cy="161.4" r="2.5" fill="#002eff"/><circle cx="203.4" cy="174.8" r="2.5" fill="#002eff"/><circle cx="181.5" cy="189.0" r="2.5" fill="#63ff9c"/><circle cx="211.0" cy="107.8" r="2.5" fill="#63ff9c"/><circle cx="211.7" cy="91.5" r="2.5" fill="#002eff"/><circle cx="230.3" cy="130.0" r="2.5" fill="#63ff9c"/><circle cx="159.3" cy="185.1" r="2.5" fill="#0cfff3"/><circle cx="186.6" cy="192.0" r="2.5" fill="#63ff9c"/><circle cx="161.4" cy="107.3" r="2.5" fill="#00beff"/><circle cx="167.0" cy="115.7" r="2.5" fill="#63ff9c"/><circle cx="184.2" cy="129.6" r="2.5" fill="#b0ff4f"/><circle cx="177.0" cy="143.5" r="2.5" fill="#b0ff4f"/><circle cx="215.0" cy="186.3" r="2.5" fill="#0cfff3"/><circle cx="160.7" cy="205.4" r="2.5" fill="#002eff"/><circle cx="173.8" cy="149.9" r="2.5" fill="#0cfff3"/><circle cx="228.0" cy="127.7" r="2.5" fill="#b0ff4f"/><circle cx="164.9" cy="172.1" r="2.5" fill="#0cfff3"/><circle cx="171.4" cy="94.2" r="2.5" fill="#00beff"/><circle cx="212.9" cy="123.8" r="2.5" fill="#63ff9c"/><circle cx="170.2" cy="90.4" r="2.5" fill="#b0ff4f"/><circle cx="198.6" cy="136.2" r="2.5" fill="#00beff"/><circle cx="214.4" cy="128.2" r="2.5" fill="#0cfff3"/><circle cx="192.7" cy="138.2" r="2.5" fill="#002eff"/><circle cx="232.6" cy="166.0" r="2.5" fill="#63ff9c"/><circle cx="183.4" cy="110.7" r="2.5" fill="#b0ff4f"/><circle cx="230.4" cy="164.9" r="2.5" fill="#63ff9c"/><circle cx="166.0" cy="139.8" r="2.5" fill="#00beff"/><circle cx="162.4" cy="138.1" r="2.5" fill="#00beff"/><circle cx="192.5" cy="212.2" r="2.5" fill="#00beff"/><circle cx="232.4" cy="142.3" r="2.5" fill="#63ff9c"/><circle cx="210.5" cy="124.9" r="2.5" fill="#0cfff3"/><circle cx="180.1" cy="135.9" r="2.5" fill="#00beff"/><circle cx="166.5" cy="189.5" r="2.5" fill="#b0ff4f"/><circle cx="231.1" cy="164.5" r="2.5" fill="#63ff9c"/><circle cx="224.1" cy="107.2" r="2.5" fill="#63ff9c"/><circle cx="178.7" cy="184.4" r="2.5" fill="#b0ff4f"/><circle cx="185.5" cy="184.9" r="2.5" fill="#0cfff3"/><circle cx="210.9" cy="169.3" r="2.5" fill="#0cfff3"/><circle cx="185.6" cy="174.4" r="2.5" fill="#0cfff3"/><circle cx="221.6" cy="118.1" r="2.5" fill="#0cfff3"/><circle cx="230.9" cy="127.7" r="2.5" fill="#00beff"/><circle cx="202.2" cy="85.7" r="2.5" fill="#b0ff4f"/><circle cx="216.9" cy="125.9" r="2.5" fill="#0cfff3"/><circle cx="193.2" cy="188.8" r="2.5" fill="#0cfff3"/><circle cx="184.4" cy="166.7" r="2.5" fill="#63ff9c"/><circle cx="184.6" cy="192.2" r="2.5" fill="#63ff9c"/><circle cx="232.4" cy="206.7" r="2.5" fill="#b0ff4f"/><circle cx="168.7" cy="209.8" r="2.5" fill="#00beff"/><circle cx="221.7" cy="204.3" r="2.5" fill="#63ff9c"/><circle cx="179.5" cy="94.3" r="2.5" fill="#63ff9c"/><circle cx="171.0" cy="184.2" r="2.5" fill="#b0ff4f"/><circle cx="197.3" cy="204.2" r="2.5" fill="#0cfff3"/><circle cx="205.5" cy="183.4" r="2.5" fill="#0cfff3"/><circle cx="212.9" cy="87.7" r="2.5" fill="#00beff"/></g><circle cx="87.7" cy="83.9" r="3.5" fill="#ffe500"/><circle cx="216.7" cy="150.2" r="3.5" fill="#00d1ff"/><circle cx="231.3" cy="159.9" r="4.2" fill="#00abff"/><circle cx="231.3" cy="169.7" r="4.2" fill="#63ff9c"/><circle cx="229.9" cy="178.0" r="4.2" fill="#008eff"/></g>
<g clip-path="url(#axclip)"><use href="#states"/></g>
<rect x="0" y="0" width="234.2" height="214.0" fill="none" stroke="#000" stroke-width="1"/>
<text class="b" font-size="12.7" text-anchor="middle" x="44.8" y="-19.2">100<tspan font-size="10" dx="1.6" dy="-6.3">°</tspan><tspan dx="1.6" dy="6.3"> W</tspan></text>
<text class="b" font-size="12.7" text-anchor="middle" x="110.3" y="-19.2">90<tspan font-size="10" dx="1.6" dy="-6.3">°</tspan><tspan dx="1.6" dy="6.3"> W</tspan></text>
<text class="b" font-size="12.7" text-anchor="middle" x="173.6" y="-19.2">80<tspan font-size="10" dx="1.6" dy="-6.3">°</tspan><tspan dx="1.6" dy="6.3"> W</tspan></text>
<text class="b" font-size="12.7" text-anchor="middle" x="236.9" y="-19.2">70<tspan font-size="10" dx="1.6" dy="-6.3">°</tspan><tspan dx="1.6" dy="6.3"> W</tspan></text>
<text class="b" font-size="12.7" text-anchor="end" x="-10.5" y="218.7">22<tspan font-size="10" dx="1.1" dy="-7.2">°</tspan><tspan dx="-0.2" dy="7.2"> N</tspan></text>
<text class="b" font-size="12.7" text-anchor="end" x="-10.5" y="205.9">24<tspan font-size="10" dx="1.1" dy="-7.2">°</tspan><tspan dx="-0.2" dy="7.2"> N</tspan></text>
<text class="b" font-size="12.7" text-anchor="end" x="-10.5" y="191.3">26<tspan font-size="10" dx="1.1" dy="-7.2">°</tspan><tspan dx="-0.2" dy="7.2"> N</tspan></text>
<text class="b" font-size="12.7" text-anchor="end" x="-10.5" y="177.3">28<tspan font-size="10" dx="1.1" dy="-7.2">°</tspan><tspan dx="-0.2" dy="7.2"> N</tspan></text>
<text class="b" font-size="12.7" text-anchor="end" x="-10.5" y="164.9">30<tspan font-size="10" dx="1.1" dy="-7.2">°</tspan><tspan dx="-0.2" dy="7.2"> N</tspan></text>
<text class="b" font-size="12.7" text-anchor="end" x="-10.5" y="149.0">32<tspan font-size="10" dx="1.1" dy="-7.2">°</tspan><tspan dx="-0.2" dy="7.2"> N</tspan></text>
<text class="b" font-size="12.7" text-anchor="end" x="-10.5" y="132.9">34<tspan font-size="10" dx="1.1" dy="-7.2">°</tspan><tspan dx="-0.2" dy="7.2"> N</tspan></text>
<text class="b" font-size="12.7" text-anchor="end" x="-10.5" y="118.4">36<tspan font-size="10" dx="1.1" dy="-7.2">°</tspan><tspan dx="-0.2" dy="7.2"> N</tspan></text>
<text class="b" font-size="12.7" text-anchor="end" x="-10.5" y="102.9">38<tspan font-size="10" dx="1.1" dy="-7.2">°</tspan><tspan dx="-0.2" dy="7.2"> N</tspan></text>
<text class="b" font-size="12.7" text-anchor="end" x="-10.5" y="87.6">40<tspan font-size="10" dx="1.1" dy="-7.2">°</tspan><tspan dx="-0.2" dy="7.2"> N</tspan></text>
<text class="b" font-size="12.7" text-anchor="end" x="-10.5" y="70.4">42<tspan font-size="10" dx="1.1" dy="-7.2">°</tspan><tspan dx="-0.2" dy="7.2"> N</tspan></text>
<text class="b" font-size="12.7" text-anchor="end" x="-10.5" y="52.0">44<tspan font-size="10" dx="1.1" dy="-7.2">°</tspan><tspan dx="-0.2" dy="7.2"> N</tspan></text>
<text class="b" font-size="12.7" text-anchor="end" x="-10.5" y="35.1">46<tspan font-size="10" dx="1.1" dy="-7.2">°</tspan><tspan dx="-0.2" dy="7.2"> N</tspan></text>
<text class="b" font-size="12.7" text-anchor="end" x="-10.5" y="16.6">48<tspan font-size="10" dx="1.1" dy="-7.2">°</tspan><tspan dx="-0.2" dy="7.2"> N</tspan></text>
<rect x="245.5" y="-0.5" width="23.5" height="214.8" fill="url(#jet)" stroke="#262626" stroke-width="0.8"/>
<line x1="266.7" x2="269.0" y1="207.9" y2="207.9" stroke="#262626" stroke-width="0.8"/>
<text class="b" font-size="20.6" x="277.3" y="214.8">-5</text>
<line x1="266.7" x2="269.0" y1="107.0" y2="107.0" stroke="#262626" stroke-width="0.8"/>
<text class="b" font-size="20.6" x="277.3" y="113.9">0</text>
<line x1="266.7" x2="269.0" y1="6.1" y2="6.1" stroke="#262626" stroke-width="0.8"/>
<text class="b" font-size="20.6" x="277.3" y="13.0">5</text>
<text class="b" font-size="23" text-anchor="middle" x="111.8" y="244.8">SAT<tspan dx="0.9">-</tspan><tspan dx="0.9">RAP 850 hPa MR (g/kg)</tspan></text>
</g>
<g transform="translate(616.7,485.8)">
<mask id="m5" maskUnits="userSpaceOnUse" x="0" y="-10" width="260" height="240"><rect x="0" y="-10" width="260" height="240" fill="#fff"/><g fill="#000" stroke="#000" stroke-width="3.6" stroke-linejoin="round"><polygon points="35.2,44.6 57.5,44.1 76.1,35.1 89.7,29.6 92.4,21.5 114.3,17.4 141.5,18.7 149.7,24.2 155.2,16.0 157.9,5.1 157.9,-16.7 35.2,-16.7"/><polygon points="221.9,86.3 239.7,86.3 239.7,153.7 226.6,157.8 221.1,146.9 222.8,116.9"/></g><g fill="none" stroke="#fff" stroke-width="5.4" stroke-linecap="round" stroke-linejoin="round" stroke-dasharray="0.01 5.6"><polygon points="35.2,44.6 57.5,44.1 76.1,35.1 89.7,29.6 92.4,21.5 114.3,17.4 141.5,18.7 149.7,24.2 155.2,16.0 157.9,5.1 157.9,-16.7 35.2,-16.7"/><polygon points="221.9,86.3 239.7,86.3 239.7,153.7 226.6,157.8 221.1,146.9 222.8,116.9"/></g><g fill="#000" stroke="#000" stroke-width="4" stroke-linejoin="round" stroke-linecap="round" stroke-dasharray="0.01 5"><polygon points="73.4,68.4 84.3,70.5 97.9,62.4 102.8,59.1 103.4,52.8 122.4,59.6 122.4,67.8 114.3,73.3 108.8,84.2 108.8,97.8 103.4,103.3 95.7,97.8 90.3,103.3 82.1,101.1 78.8,86.9 76.1,76.0"/><polygon points="168.8,76.0 174.2,71.9 185.1,69.2 196.0,65.1 204.8,67.3 204.8,76.0 198.8,84.2 185.1,84.7 168.8,84.2"/><polygon points="168.8,90.2 185.1,86.9 191.1,97.8 185.1,108.7 174.2,106.0 168.8,97.8"/><polygon points="223.9,9.2 239.7,9.2 239.7,29.6 226.0,29.1 221.9,21.5"/><polygon points="212.4,155.1 224.7,153.7 226.0,168.7 217.9,171.4 212.4,166.0"/><polygon points="202.9,185.0 212.4,183.7 212.4,190.5 204.2,191.0"/></g></mask><g clip-path="url(#swath)"><g mask="url(#m5)"><rect x="40" y="-10" width="210" height="240" fill="#80ff80"/><g filter="url(#bl)"><ellipse cx="136.1" cy="46.0" rx="10.9" ry="13.6" fill="#d8ff27"/><ellipse cx="147.0" cy="37.8" rx="3.3" ry="3.8" fill="#ffe200"/><ellipse cx="168.8" cy="32.4" rx="12.3" ry="6.8" fill="#ffeb00" transform="rotate(-25 168.8 32.4)"/><ellipse cx="185.1" cy="21.5" rx="19.1" ry="10.9" fill="#b1ff4e"/><ellipse cx="103.4" cy="37.8" rx="10.9" ry="10.9" fill="#b1ff4e"/><ellipse cx="73.4" cy="48.7" rx="13.6" ry="8.2" fill="#b1ff4e"/><ellipse cx="138.8" cy="84.2" rx="21.8" ry="12.3" fill="#b1ff4e"/><ellipse cx="168.8" cy="10.6" rx="10.9" ry="5.5" fill="#27ffd8"/><ellipse cx="209.7" cy="10.6" rx="10.9" ry="6.8" fill="#45ffba"/><ellipse cx="156.5" cy="125.1" rx="10.4" ry="10.9" fill="#31ffce" transform="rotate(-25 156.5 125.1)"/><ellipse cx="166.1" cy="155.1" rx="3.8" ry="10.9" fill="#3bffc4" transform="rotate(15 166.1 155.1)"/><ellipse cx="185.1" cy="114.2" rx="8.2" ry="16.4" fill="#4effb1"/><ellipse cx="204.2" cy="116.9" rx="7.6" ry="35.4" fill="#14ffeb" transform="rotate(8 204.2 116.9)"/><ellipse cx="211.0" cy="92.3" rx="3.8" ry="10.9" fill="#001dff" transform="rotate(-15 211.0 92.3)"/><ellipse cx="217.3" cy="122.3" rx="3.5" ry="21.8" fill="#0000f5"/><ellipse cx="212.4" cy="157.8" rx="3.5" ry="16.4" fill="#000aff" transform="rotate(22 212.4 157.8)"/><ellipse cx="202.0" cy="182.3" rx="3.3" ry="10.9" fill="#0045ff" transform="rotate(30 202.0 182.3)"/><ellipse cx="218.4" cy="116.9" rx="1.4" ry="10.9" fill="#ff8900"/><ellipse cx="204.2" cy="182.3" rx="1.6" ry="5.5" fill="#ff2700" transform="rotate(35 204.2 182.3)"/><ellipse cx="180.2" cy="136.5" rx="6.0" ry="3.8" fill="#ffff00" transform="rotate(-30 180.2 136.5)"/><ellipse cx="185.1" cy="204.1" rx="16.4" ry="8.2" fill="#00ebff"/><ellipse cx="174.2" cy="209.6" rx="10.9" ry="3.8" fill="#0058ff"/><ellipse cx="196.0" cy="201.4" rx="5.5" ry="2.2" fill="#ff5800" transform="rotate(-30 196.0 201.4)"/><ellipse cx="226.0" cy="168.7" rx="4.9" ry="13.6" fill="#baff45"/><ellipse cx="231.5" cy="174.1" rx="2.2" ry="8.2" fill="#00ceff"/></g><circle cx="207.7" cy="193.9" r="2.2" fill="#baff45"/><circle cx="206.2" cy="112.5" r="2.2" fill="#31ffce"/><circle cx="201.3" cy="157.4" r="2.2" fill="#9dff62"/><circle cx="184.5" cy="111.0" r="2.2" fill="#baff45"/><circle cx="208.1" cy="184.3" r="2.2" fill="#baff45"/><circle cx="213.5" cy="164.6" r="2.2" fill="#00ebff"/><circle cx="178.3" cy="166.1" r="2.2" fill="#9dff62"/><circle cx="201.3" cy="171.9" r="2.2" fill="#00ebff"/><circle cx="210.2" cy="143.5" r="2.2" fill="#00ebff"/><circle cx="186.6" cy="151.2" r="2.2" fill="#9dff62"/><circle cx="190.6" cy="118.4" r="2.2" fill="#31ffce"/><circle cx="203.2" cy="191.2" r="2.2" fill="#00ebff"/><circle cx="215.5" cy="169.7" r="2.2" fill="#31ffce"/><circle cx="209.4" cy="203.3" r="2.2" fill="#baff45"/><circle cx="214.6" cy="202.9" r="2.2" fill="#00ebff"/><circle cx="199.9" cy="134.1" r="2.2" fill="#baff45"/><circle cx="183.7" cy="169.7" r="2.2" fill="#00ebff"/><circle cx="193.3" cy="179.0" r="2.2" fill="#31ffce"/><circle cx="174.5" cy="177.4" r="2.2" fill="#9dff62"/><circle cx="204.1" cy="148.1" r="2.2" fill="#31ffce"/><circle cx="175.6" cy="130.4" r="2.2" fill="#00ebff"/><circle cx="178.0" cy="126.2" r="2.2" fill="#9dff62"/><circle cx="196.2" cy="178.3" r="2.2" fill="#9dff62"/><circle cx="187.2" cy="163.3" r="2.2" fill="#9dff62"/><circle cx="175.0" cy="212.3" r="2.2" fill="#00ebff"/><circle cx="177.9" cy="170.2" r="2.2" fill="#baff45"/><circle cx="173.5" cy="154.4" r="2.2" fill="#00ebff"/><circle cx="212.6" cy="178.1" r="2.2" fill="#baff45"/><circle cx="190.7" cy="194.8" r="2.2" fill="#00ebff"/><circle cx="194.1" cy="157.5" r="2.2" fill="#baff45"/><circle cx="214.9" cy="128.6" r="2.2" fill="#9dff62"/><circle cx="190.9" cy="183.6" r="2.2" fill="#31ffce"/><circle cx="169.7" cy="164.4" r="2.2" fill="#9dff62"/><circle cx="197.7" cy="146.1" r="2.2" fill="#9dff62"/><circle cx="193.5" cy="142.8" r="2.2" fill="#9dff62"/><circle cx="217.0" cy="204.7" r="2.2" fill="#baff45"/><circle cx="198.8" cy="136.5" r="2.2" fill="#baff45"/><circle cx="201.0" cy="159.7" r="2.2" fill="#baff45"/><circle cx="193.2" cy="174.4" r="2.2" fill="#baff45"/><circle cx="184.7" cy="177.0" r="2.2" fill="#baff45"/><circle cx="202.9" cy="136.2" r="2.2" fill="#baff45"/><circle cx="216.6" cy="184.3" r="2.2" fill="#31ffce"/><circle cx="214.7" cy="138.8" r="2.2" fill="#00ebff"/><circle cx="199.4" cy="208.6" r="2.2" fill="#31ffce"/><circle cx="170.3" cy="188.8" r="2.2" fill="#00ebff"/></g><circle cx="88.4" cy="81.4" r="3.5" fill="#930000"/><circle cx="93.0" cy="79.3" r="3.3" fill="#ba0000"/><circle cx="84.8" cy="98.3" r="2.7" fill="#c4ff3b"/><circle cx="179.7" cy="97.8" r="3.0" fill="#001dff"/><circle cx="174.8" cy="102.2" r="2.2" fill="#00ceff"/><circle cx="218.7" cy="22.6" r="2.5" fill="#0afff5"/><circle cx="185.1" cy="101.9" r="2.5" fill="#62ff9d"/></g>
<g clip-path="url(#axclip)"><use href="#states"/></g>
<rect x="0" y="0" width="234.2" height="214.0" fill="none" stroke="#000" stroke-width="1"/>
<text class="b" font-size="12.7" text-anchor="middle" x="44.8" y="-19.2">100<tspan font-size="10" dx="1.6" dy="-6.3">°</tspan><tspan dx="1.6" dy="6.3"> W</tspan></text>
<text class="b" font-size="12.7" text-anchor="middle" x="110.3" y="-19.2">90<tspan font-size="10" dx="1.6" dy="-6.3">°</tspan><tspan dx="1.6" dy="6.3"> W</tspan></text>
<text class="b" font-size="12.7" text-anchor="middle" x="173.6" y="-19.2">80<tspan font-size="10" dx="1.6" dy="-6.3">°</tspan><tspan dx="1.6" dy="6.3"> W</tspan></text>
<text class="b" font-size="12.7" text-anchor="middle" x="236.9" y="-19.2">70<tspan font-size="10" dx="1.6" dy="-6.3">°</tspan><tspan dx="1.6" dy="6.3"> W</tspan></text>
<text class="b" font-size="12.7" text-anchor="end" x="-10.5" y="218.7">22<tspan font-size="10" dx="1.1" dy="-7.2">°</tspan><tspan dx="-0.2" dy="7.2"> N</tspan></text>
<text class="b" font-size="12.7" text-anchor="end" x="-10.5" y="205.9">24<tspan font-size="10" dx="1.1" dy="-7.2">°</tspan><tspan dx="-0.2" dy="7.2"> N</tspan></text>
<text class="b" font-size="12.7" text-anchor="end" x="-10.5" y="191.3">26<tspan font-size="10" dx="1.1" dy="-7.2">°</tspan><tspan dx="-0.2" dy="7.2"> N</tspan></text>
<text class="b" font-size="12.7" text-anchor="end" x="-10.5" y="177.3">28<tspan font-size="10" dx="1.1" dy="-7.2">°</tspan><tspan dx="-0.2" dy="7.2"> N</tspan></text>
<text class="b" font-size="12.7" text-anchor="end" x="-10.5" y="164.9">30<tspan font-size="10" dx="1.1" dy="-7.2">°</tspan><tspan dx="-0.2" dy="7.2"> N</tspan></text>
<text class="b" font-size="12.7" text-anchor="end" x="-10.5" y="149.0">32<tspan font-size="10" dx="1.1" dy="-7.2">°</tspan><tspan dx="-0.2" dy="7.2"> N</tspan></text>
<text class="b" font-size="12.7" text-anchor="end" x="-10.5" y="132.9">34<tspan font-size="10" dx="1.1" dy="-7.2">°</tspan><tspan dx="-0.2" dy="7.2"> N</tspan></text>
<text class="b" font-size="12.7" text-anchor="end" x="-10.5" y="118.4">36<tspan font-size="10" dx="1.1" dy="-7.2">°</tspan><tspan dx="-0.2" dy="7.2"> N</tspan></text>
<text class="b" font-size="12.7" text-anchor="end" x="-10.5" y="102.9">38<tspan font-size="10" dx="1.1" dy="-7.2">°</tspan><tspan dx="-0.2" dy="7.2"> N</tspan></text>
<text class="b" font-size="12.7" text-anchor="end" x="-10.5" y="87.6">40<tspan font-size="10" dx="1.1" dy="-7.2">°</tspan><tspan dx="-0.2" dy="7.2"> N</tspan></text>
<text class="b" font-size="12.7" text-anchor="end" x="-10.5" y="70.4">42<tspan font-size="10" dx="1.1" dy="-7.2">°</tspan><tspan dx="-0.2" dy="7.2"> N</tspan></text>
<text class="b" font-size="12.7" text-anchor="end" x="-10.5" y="52.0">44<tspan font-size="10" dx="1.1" dy="-7.2">°</tspan><tspan dx="-0.2" dy="7.2"> N</tspan></text>
<text class="b" font-size="12.7" text-anchor="end" x="-10.5" y="35.1">46<tspan font-size="10" dx="1.1" dy="-7.2">°</tspan><tspan dx="-0.2" dy="7.2"> N</tspan></text>
<text class="b" font-size="12.7" text-anchor="end" x="-10.5" y="16.6">48<tspan font-size="10" dx="1.1" dy="-7.2">°</tspan><tspan dx="-0.2" dy="7.2"> N</tspan></text>
<rect x="245.5" y="-0.5" width="23.5" height="214.8" fill="url(#jet)" stroke="#262626" stroke-width="0.8"/>
<line x1="266.7" x2="269.0" y1="209.9" y2="209.9" stroke="#262626" stroke-width="0.8"/>
<text class="b" font-size="20.6" x="277.3" y="216.8">-5</text>
<line x1="266.7" x2="269.0" y1="107.0" y2="107.0" stroke="#262626" stroke-width="0.8"/>
<text class="b" font-size="20.6" x="277.3" y="113.9">0</text>
<line x1="266.7" x2="269.0" y1="4.1" y2="4.1" stroke="#262626" stroke-width="0.8"/>
<text class="b" font-size="20.6" x="277.3" y="11.0">5</text>
<text class="b" font-size="23" text-anchor="middle" x="111.8" y="244.8">SAT<tspan dx="0.9">-</tspan><tspan dx="0.9">RAP 700 hPa MR (g/kg)</tspan></text>
</g>
<g transform="translate(1037.8,485.2)">
<mask id="m6" maskUnits="userSpaceOnUse" x="0" y="-10" width="260" height="240"><rect x="0" y="-10" width="260" height="240" fill="#fff"/><g fill="#000" stroke="#000" stroke-width="3.6" stroke-linejoin="round"><polygon points="35.1,46.1 57.4,45.6 76.0,37.4 89.6,32.0 92.3,23.8 114.2,18.3 136.0,21.1 146.9,23.2 151.8,21.1 152.3,2.0 152.3,-17.1 35.1,-17.1"/><polygon points="224.8,86.5 239.6,86.5 239.6,157.4 229.2,157.4 225.9,164.2 217.8,168.3 218.3,181.9 225.9,181.9 223.8,168.3 220.5,157.4 224.8,146.5"/></g><g fill="none" stroke="#fff" stroke-width="5.4" stroke-linecap="round" stroke-linejoin="round" stroke-dasharray="0.01 5.6"><polygon points="35.1,46.1 57.4,45.6 76.0,37.4 89.6,32.0 92.3,23.8 114.2,18.3 136.0,21.1 146.9,23.2 151.8,21.1 152.3,2.0 152.3,-17.1 35.1,-17.1"/><polygon points="224.8,86.5 239.6,86.5 239.6,157.4 229.2,157.4 225.9,164.2 217.8,168.3 218.3,181.9 225.9,181.9 223.8,168.3 220.5,157.4 224.8,146.5"/></g><g fill="#000" stroke="#000" stroke-width="4" stroke-linejoin="round" stroke-linecap="round" stroke-dasharray="0.01 5"><polygon points="76.0,66.9 84.2,67.4 89.6,62.0 97.8,59.2 101.1,65.2 95.6,70.1 89.6,71.8 84.2,74.5"/><polygon points="103.3,63.3 114.2,60.6 122.3,63.3 122.3,72.9 111.4,75.6 104.6,72.9"/><polygon points="92.9,84.3 101.9,83.8 103.8,97.4 99.2,103.4 92.9,97.4"/><polygon points="182.3,73.4 190.5,70.1 201.4,67.4 204.7,72.9 198.7,78.9 185.0,81.6 179.6,78.3"/><polygon points="195.9,57.0 212.3,52.1 210.1,62.0 198.7,65.2"/><polygon points="171.4,89.8 185.0,86.5 191.0,97.4 182.3,103.4 172.8,99.0"/></g></mask><g clip-path="url(#swath)"><g mask="url(#m6)"><rect x="40" y="-10" width="210" height="240" fill="#80ff80"/><g filter="url(#bl)"><ellipse cx="76.0" cy="65.2" rx="8.2" ry="3.8" fill="#00edff"/><ellipse cx="127.8" cy="53.8" rx="6.8" ry="13.6" fill="#00fbff" transform="rotate(15 127.8 53.8)"/><ellipse cx="103.3" cy="63.6" rx="3.8" ry="2.7" fill="#00edff"/><ellipse cx="89.6" cy="89.2" rx="7.6" ry="12.3" fill="#fffb00"/><ellipse cx="179.6" cy="108.3" rx="12.3" ry="6.0" fill="#00d0ff" transform="rotate(-10 179.6 108.3)"/><ellipse cx="223.2" cy="23.8" rx="8.2" ry="5.5" fill="#00edff"/><ellipse cx="206.8" cy="63.3" rx="3.8" ry="2.7" fill="#00d0ff"/><ellipse cx="110.1" cy="184.6" rx="8.2" ry="16.4" fill="#ffa400" transform="rotate(-22 110.1 184.6)"/><ellipse cx="121.0" cy="173.7" rx="4.9" ry="16.4" fill="#f40000" transform="rotate(-32 121.0 173.7)"/><ellipse cx="114.2" cy="162.8" rx="5.5" ry="3.8" fill="#ff2100"/><ellipse cx="108.7" cy="201.0" rx="5.5" ry="8.2" fill="#ffed00"/><ellipse cx="163.2" cy="184.6" rx="10.9" ry="3.8" fill="#ff5b00" transform="rotate(20 163.2 184.6)"/><ellipse cx="177.4" cy="181.9" rx="4.4" ry="2.2" fill="#e50000"/><ellipse cx="157.8" cy="181.9" rx="2.7" ry="2.2" fill="#ff0400"/><ellipse cx="168.7" cy="192.8" rx="2.7" ry="3.8" fill="#ff3e00"/><ellipse cx="201.4" cy="190.6" rx="13.6" ry="2.5" fill="#ff0400" transform="rotate(-32 201.4 190.6)"/><ellipse cx="185.0" cy="205.1" rx="10.9" ry="1.9" fill="#ff5b00" transform="rotate(-30 185.0 205.1)"/><ellipse cx="141.4" cy="206.4" rx="16.4" ry="2.2" fill="#ff9500" transform="rotate(-8 141.4 206.4)"/><ellipse cx="125.1" cy="198.3" rx="8.2" ry="1.6" fill="#ff9500" transform="rotate(-10 125.1 198.3)"/><ellipse cx="168.7" cy="211.9" rx="10.9" ry="2.2" fill="#00edff"/><ellipse cx="157.8" cy="201.0" rx="10.9" ry="2.7" fill="#0bfff4"/><ellipse cx="180.1" cy="149.7" rx="3.8" ry="2.7" fill="#ffed00"/><ellipse cx="201.4" cy="127.9" rx="3.3" ry="1.6" fill="#ffed00"/><ellipse cx="185.0" cy="168.3" rx="16.4" ry="3.8" fill="#28ffd7" transform="rotate(-30 185.0 168.3)"/><ellipse cx="157.8" cy="121.9" rx="8.2" ry="5.5" fill="#28ffd7"/></g><circle cx="153.1" cy="165.6" r="1.9" fill="#0bfff4"/><circle cx="125.0" cy="186.6" r="1.9" fill="#ffed00"/><circle cx="182.0" cy="207.0" r="1.9" fill="#baff45"/><circle cx="121.1" cy="181.0" r="1.9" fill="#0bfff4"/><circle cx="143.8" cy="187.4" r="1.9" fill="#0bfff4"/><circle cx="209.3" cy="164.1" r="1.9" fill="#baff45"/><circle cx="187.4" cy="189.2" r="1.9" fill="#0bfff4"/><circle cx="181.4" cy="179.0" r="1.9" fill="#baff45"/><circle cx="122.1" cy="204.2" r="1.9" fill="#ffed00"/><circle cx="163.7" cy="186.9" r="1.9" fill="#ffed00"/><circle cx="179.5" cy="194.6" r="1.9" fill="#0bfff4"/><circle cx="181.9" cy="192.2" r="1.9" fill="#ffed00"/><circle cx="127.8" cy="196.2" r="1.9" fill="#0bfff4"/><circle cx="186.1" cy="184.4" r="1.9" fill="#ff7800"/><circle cx="203.8" cy="182.8" r="1.9" fill="#ff7800"/><circle cx="157.3" cy="170.9" r="1.9" fill="#baff45"/><circle cx="195.0" cy="170.7" r="1.9" fill="#ffed00"/><circle cx="175.6" cy="205.1" r="1.9" fill="#ff7800"/><circle cx="149.1" cy="210.8" r="1.9" fill="#0bfff4"/><circle cx="174.1" cy="166.4" r="1.9" fill="#ffed00"/><circle cx="133.9" cy="184.0" r="1.9" fill="#0bfff4"/><circle cx="224.4" cy="161.6" r="1.9" fill="#ffed00"/><circle cx="154.9" cy="176.5" r="1.9" fill="#ff7800"/><circle cx="181.7" cy="182.3" r="1.9" fill="#0bfff4"/><circle cx="222.5" cy="183.2" r="1.9" fill="#0bfff4"/><circle cx="123.7" cy="195.6" r="1.9" fill="#ff7800"/><circle cx="148.7" cy="178.4" r="1.9" fill="#ffed00"/><circle cx="119.4" cy="182.6" r="1.9" fill="#baff45"/><circle cx="185.2" cy="184.3" r="1.9" fill="#baff45"/><circle cx="202.8" cy="164.4" r="1.9" fill="#baff45"/><circle cx="161.4" cy="207.4" r="1.9" fill="#ff7800"/><circle cx="125.9" cy="181.9" r="1.9" fill="#ffed00"/><circle cx="215.6" cy="202.0" r="1.9" fill="#ffed00"/><circle cx="195.8" cy="211.2" r="1.9" fill="#ff7800"/><circle cx="223.9" cy="165.6" r="1.9" fill="#baff45"/><circle cx="133.8" cy="193.3" r="1.9" fill="#0bfff4"/><circle cx="171.1" cy="189.5" r="1.9" fill="#ffed00"/><circle cx="148.4" cy="165.3" r="1.9" fill="#ffed00"/><circle cx="185.0" cy="174.7" r="1.9" fill="#baff45"/><circle cx="194.1" cy="185.5" r="1.9" fill="#0bfff4"/></g><circle cx="212.3" cy="83.8" r="3.0" fill="#0000ab"/><circle cx="216.4" cy="93.6" r="3.0" fill="#00008e"/><circle cx="223.2" cy="151.9" r="2.7" fill="#0004ff"/><circle cx="212.3" cy="168.3" r="2.5" fill="#0004ff"/><circle cx="215.6" cy="182.5" r="2.7" fill="#ffde00"/><circle cx="57.4" cy="47.5" r="2.5" fill="#ffed00"/><circle cx="172.0" cy="104.2" r="2.5" fill="#005bff"/><circle cx="168.7" cy="89.2" r="1.6" fill="#0021ff"/><circle cx="204.1" cy="75.6" r="1.9" fill="#003eff"/></g>
<g clip-path="url(#axclip)"><use href="#states"/></g>
<rect x="0" y="0" width="234.2" height="214.0" fill="none" stroke="#000" stroke-width="1"/>
<text class="b" font-size="12.7" text-anchor="middle" x="46.7" y="-20.8">100<tspan font-size="10" dx="1.6" dy="-6.3">°</tspan><tspan dx="1.6" dy="6.3"> W</tspan></text>
<text class="b" font-size="12.7" text-anchor="middle" x="112.2" y="-20.8">90<tspan font-size="10" dx="1.6" dy="-6.3">°</tspan><tspan dx="1.6" dy="6.3"> W</tspan></text>
<text class="b" font-size="12.7" text-anchor="middle" x="175.5" y="-20.8">80<tspan font-size="10" dx="1.6" dy="-6.3">°</tspan><tspan dx="1.6" dy="6.3"> W</tspan></text>
<text class="b" font-size="12.7" text-anchor="middle" x="238.8" y="-20.8">70<tspan font-size="10" dx="1.6" dy="-6.3">°</tspan><tspan dx="1.6" dy="6.3"> W</tspan></text>
<text class="b" font-size="12.7" text-anchor="end" x="-10.5" y="218.7">22<tspan font-size="10" dx="1.1" dy="-7.2">°</tspan><tspan dx="-0.2" dy="7.2"> N</tspan></text>
<text class="b" font-size="12.7" text-anchor="end" x="-10.5" y="205.9">24<tspan font-size="10" dx="1.1" dy="-7.2">°</tspan><tspan dx="-0.2" dy="7.2"> N</tspan></text>
<text class="b" font-size="12.7" text-anchor="end" x="-10.5" y="191.3">26<tspan font-size="10" dx="1.1" dy="-7.2">°</tspan><tspan dx="-0.2" dy="7.2"> N</tspan></text>
<text class="b" font-size="12.7" text-anchor="end" x="-10.5" y="177.3">28<tspan font-size="10" dx="1.1" dy="-7.2">°</tspan><tspan dx="-0.2" dy="7.2"> N</tspan></text>
<text class="b" font-size="12.7" text-anchor="end" x="-10.5" y="164.9">30<tspan font-size="10" dx="1.1" dy="-7.2">°</tspan><tspan dx="-0.2" dy="7.2"> N</tspan></text>
<text class="b" font-size="12.7" text-anchor="end" x="-10.5" y="149.0">32<tspan font-size="10" dx="1.1" dy="-7.2">°</tspan><tspan dx="-0.2" dy="7.2"> N</tspan></text>
<text class="b" font-size="12.7" text-anchor="end" x="-10.5" y="132.9">34<tspan font-size="10" dx="1.1" dy="-7.2">°</tspan><tspan dx="-0.2" dy="7.2"> N</tspan></text>
<text class="b" font-size="12.7" text-anchor="end" x="-10.5" y="118.4">36<tspan font-size="10" dx="1.1" dy="-7.2">°</tspan><tspan dx="-0.2" dy="7.2"> N</tspan></text>
<text class="b" font-size="12.7" text-anchor="end" x="-10.5" y="102.9">38<tspan font-size="10" dx="1.1" dy="-7.2">°</tspan><tspan dx="-0.2" dy="7.2"> N</tspan></text>
<text class="b" font-size="12.7" text-anchor="end" x="-10.5" y="87.6">40<tspan font-size="10" dx="1.1" dy="-7.2">°</tspan><tspan dx="-0.2" dy="7.2"> N</tspan></text>
<text class="b" font-size="12.7" text-anchor="end" x="-10.5" y="70.4">42<tspan font-size="10" dx="1.1" dy="-7.2">°</tspan><tspan dx="-0.2" dy="7.2"> N</tspan></text>
<text class="b" font-size="12.7" text-anchor="end" x="-10.5" y="52.0">44<tspan font-size="10" dx="1.1" dy="-7.2">°</tspan><tspan dx="-0.2" dy="7.2"> N</tspan></text>
<text class="b" font-size="12.7" text-anchor="end" x="-10.5" y="35.1">46<tspan font-size="10" dx="1.1" dy="-7.2">°</tspan><tspan dx="-0.2" dy="7.2"> N</tspan></text>
<text class="b" font-size="12.7" text-anchor="end" x="-10.5" y="16.6">48<tspan font-size="10" dx="1.1" dy="-7.2">°</tspan><tspan dx="-0.2" dy="7.2"> N</tspan></text>
<rect x="247.5" y="-0.5" width="23.5" height="214.8" fill="url(#jet)" stroke="#262626" stroke-width="0.8"/>
<line x1="268.7" x2="271.0" y1="168.1" y2="168.1" stroke="#262626" stroke-width="0.8"/>
<text class="b" font-size="20.6" x="279.3" y="175.0">-1</text>
<line x1="268.7" x2="271.0" y1="107.0" y2="107.0" stroke="#262626" stroke-width="0.8"/>
<text class="b" font-size="20.6" x="279.3" y="113.9">0</text>
<line x1="268.7" x2="271.0" y1="45.9" y2="45.9" stroke="#262626" stroke-width="0.8"/>
<text class="b" font-size="20.6" x="279.3" y="52.8">1</text>
<text class="b" font-size="23" text-anchor="middle" x="111.8" y="244.8">SAT<tspan dx="0.9">-</tspan><tspan dx="0.9">RAP 500 hPa MR (g/kg)</tspan></text>
</g>
</svg></body></html>
